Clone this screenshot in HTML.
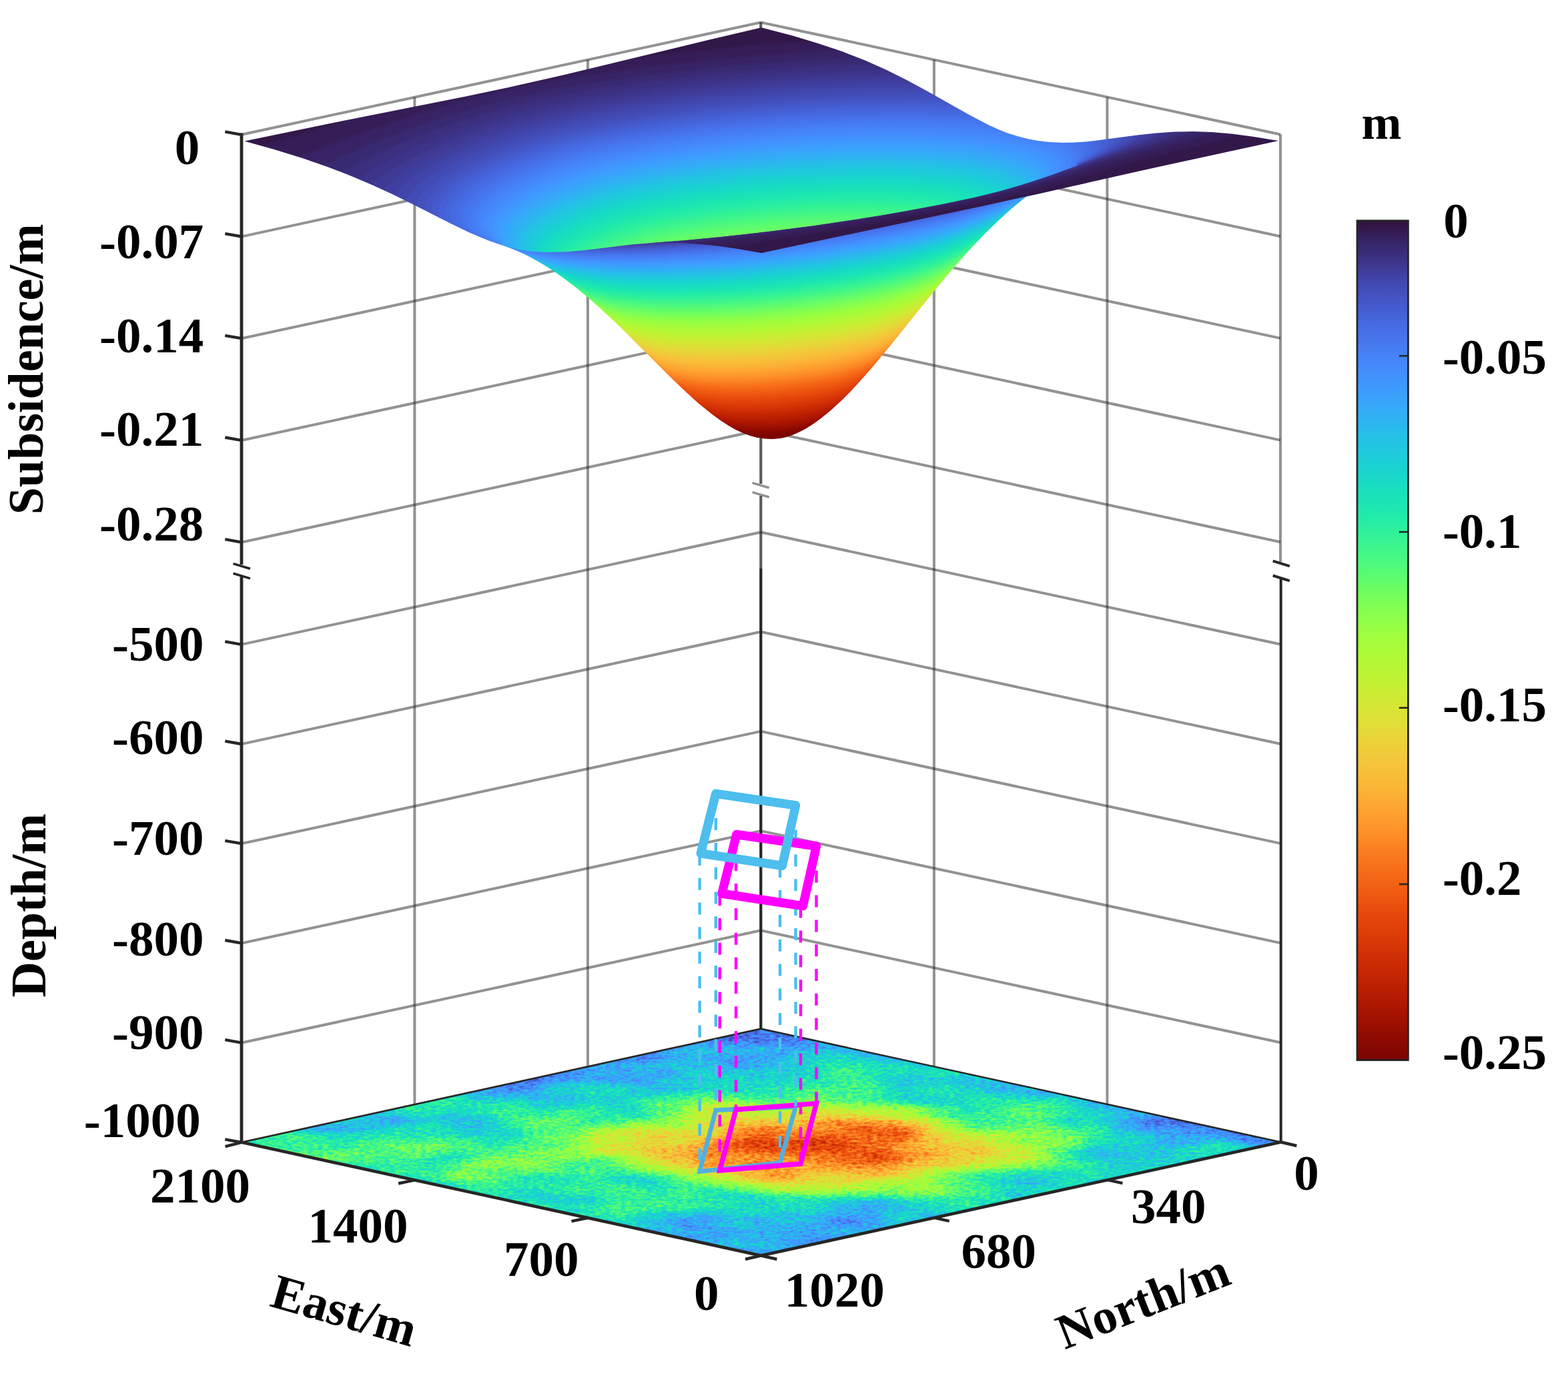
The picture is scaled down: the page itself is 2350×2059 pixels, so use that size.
<!DOCTYPE html>
<html lang="en"><head><meta charset="utf-8"><title>Subsidence and depth 3D plot</title>
<style>html,body{margin:0;padding:0;background:#fff}body{width:2350px;height:2059px;overflow:hidden}svg{display:block}text{font-family:"Liberation Serif","DejaVu Serif",serif;font-weight:bold;fill:#000}</style></head><body>
<svg xmlns="http://www.w3.org/2000/svg" width="2350" height="2059" viewBox="0 0 2350 2059">
<rect width="2350" height="2059" fill="#fff"/>
<defs>
<linearGradient id="cb" x1="0" y1="0" x2="0" y2="1"><stop offset="0.0000" stop-color="#30123b"/><stop offset="0.0250" stop-color="#372466"/><stop offset="0.0500" stop-color="#3d358b"/><stop offset="0.0750" stop-color="#4249b1"/><stop offset="0.1000" stop-color="#4559cb"/><stop offset="0.1250" stop-color="#466be3"/><stop offset="0.1500" stop-color="#477bf2"/><stop offset="0.1750" stop-color="#458afc"/><stop offset="0.2000" stop-color="#3e9bfe"/><stop offset="0.2250" stop-color="#35abf8"/><stop offset="0.2500" stop-color="#28bceb"/><stop offset="0.2750" stop-color="#1fc9dd"/><stop offset="0.3000" stop-color="#19d5cd"/><stop offset="0.3250" stop-color="#19e2bb"/><stop offset="0.3500" stop-color="#20eaac"/><stop offset="0.3750" stop-color="#32f298"/><stop offset="0.4000" stop-color="#46f884"/><stop offset="0.4250" stop-color="#5dfc6f"/><stop offset="0.4500" stop-color="#79fe59"/><stop offset="0.4750" stop-color="#8fff49"/><stop offset="0.5000" stop-color="#a4fc3c"/><stop offset="0.5250" stop-color="#b4f836"/><stop offset="0.5500" stop-color="#c3f134"/><stop offset="0.5750" stop-color="#d4e735"/><stop offset="0.6000" stop-color="#e1dd37"/><stop offset="0.6250" stop-color="#eecf3a"/><stop offset="0.6500" stop-color="#f6c33a"/><stop offset="0.6750" stop-color="#fbb637"/><stop offset="0.7000" stop-color="#fea431"/><stop offset="0.7250" stop-color="#fe932a"/><stop offset="0.7500" stop-color="#fb7e21"/><stop offset="0.7750" stop-color="#f66c19"/><stop offset="0.8000" stop-color="#f05b12"/><stop offset="0.8250" stop-color="#e7490c"/><stop offset="0.8500" stop-color="#dd3d08"/><stop offset="0.8750" stop-color="#d02f05"/><stop offset="0.9000" stop-color="#c32503"/><stop offset="0.9250" stop-color="#b41b01"/><stop offset="0.9500" stop-color="#a11201"/><stop offset="0.9750" stop-color="#8e0a01"/><stop offset="1.0000" stop-color="#7a0403"/></linearGradient>
<radialGradient id="hot" cx="0.585" cy="0.54" r="1" gradientUnits="userSpaceOnUse"><stop offset="0" stop-color="#dbdbdb"/><stop offset="0.07" stop-color="#d1d1d1"/><stop offset="0.15" stop-color="#b5b5b5"/><stop offset="0.23" stop-color="#8c8c8c"/><stop offset="0.32" stop-color="#616161"/><stop offset="0.46" stop-color="#424242"/><stop offset="0.6" stop-color="#383838"/><stop offset="1" stop-color="#333333"/></radialGradient>
<radialGradient id="lobe0" cx="0.22" cy="0.15" r="0.5" gradientUnits="userSpaceOnUse"><stop offset="0" stop-color="#fff" stop-opacity="0.22"/><stop offset="0.5" stop-color="#fff" stop-opacity="0.121"/><stop offset="1" stop-color="#fff" stop-opacity="0"/></radialGradient>
<filter id="heat" filterUnits="userSpaceOnUse" x="350" y="1530" width="1585" height="365" color-interpolation-filters="sRGB"><feTurbulence type="fractalNoise" baseFrequency="0.006 0.024" numOctaves="4" seed="3" result="n"/><feColorMatrix in="n" type="matrix" values="1 0 0 0 0 1 0 0 0 0 1 0 0 0 0 0 0 0 0 1" result="ng"/><feTurbulence type="fractalNoise" baseFrequency="0.13 0.33" numOctaves="2" seed="14" result="m"/><feColorMatrix in="m" type="matrix" values="1 0 0 0 0 1 0 0 0 0 1 0 0 0 0 0 0 0 0 1" result="mg"/><feComposite in="SourceGraphic" in2="ng" operator="arithmetic" k1="0" k2="1" k3="0.36" k4="-0.18" result="v1"/><feComposite in="v1" in2="mg" operator="arithmetic" k1="0" k2="1" k3="0.24" k4="-0.12" result="v"/><feComponentTransfer in="v" result="c"><feFuncR type="table" tableValues="0.19 0.213 0.232 0.251 0.263 0.272 0.276 0.276 0.273 0.254 0.227 0.193 0.152 0.122 0.098 0.093 0.114 0.153 0.221 0.29 0.366 0.459 0.533 0.611 0.664 0.726 0.776 0.832 0.875 0.913 0.95 0.973 0.99 0.996 0.995 0.988 0.972 0.954 0.931 0.899 0.868 0.824 0.783 0.727 0.675 0.607 0.546 0.48"/><feFuncG type="table" tableValues="0.072 0.129 0.186 0.252 0.306 0.37 0.421 0.481 0.53 0.59 0.639 0.688 0.745 0.789 0.837 0.872 0.907 0.932 0.957 0.974 0.987 0.997 0.999 0.995 0.985 0.965 0.941 0.906 0.873 0.836 0.788 0.747 0.694 0.643 0.575 0.517 0.446 0.388 0.335 0.278 0.237 0.192 0.157 0.119 0.09 0.059 0.036 0.016"/><feFuncB type="table" tableValues="0.232 0.373 0.5 0.634 0.73 0.826 0.891 0.951 0.985 0.999 0.989 0.962 0.914 0.866 0.803 0.752 0.697 0.643 0.569 0.503 0.437 0.361 0.306 0.253 0.224 0.206 0.203 0.208 0.216 0.223 0.228 0.225 0.21 0.192 0.164 0.139 0.108 0.084 0.062 0.042 0.031 0.02 0.013 0.007 0.004 0.004 0.006 0.011"/></feComponentTransfer><feComposite in="c" in2="SourceAlpha" operator="in"/></filter>
<filter id="tb" filterUnits="userSpaceOnUse" x="346" y="18" width="1590" height="664" color-interpolation-filters="sRGB"><feGaussianBlur stdDeviation="0 2.5"/><feComponentTransfer><feFuncR type="table" tableValues="0.19 0.209 0.225 0.239 0.251 0.261 0.268 0.273 0.276 0.277 0.275 0.271 0.259 0.239 0.214 0.186 0.152 0.127 0.107 0.095 0.093 0.103 0.127 0.163 0.209 0.262 0.32 0.381 0.443 0.504 0.56 0.611 0.664 0.706 0.746 0.786 0.823 0.859 0.891 0.92 0.945 0.965 0.98 0.99 0.995 0.997 0.994 0.988 0.975 0.962 0.945 0.926 0.905 0.881 0.854 0.824 0.791 0.756 0.717 0.675 0.631 0.583 0.533 0.48"/><feFuncG type="table" tableValues="0.072 0.118 0.164 0.208 0.252 0.296 0.338 0.38 0.421 0.462 0.501 0.54 0.58 0.619 0.659 0.698 0.745 0.78 0.814 0.845 0.872 0.896 0.917 0.936 0.953 0.968 0.98 0.989 0.996 0.999 0.999 0.995 0.985 0.973 0.956 0.936 0.913 0.887 0.858 0.828 0.796 0.764 0.73 0.694 0.653 0.61 0.564 0.517 0.457 0.411 0.366 0.325 0.287 0.253 0.222 0.192 0.164 0.137 0.113 0.09 0.069 0.049 0.032 0.016"/><feFuncB type="table" tableValues="0.232 0.346 0.451 0.547 0.634 0.712 0.78 0.84 0.891 0.933 0.966 0.989 0.999 0.995 0.98 0.955 0.914 0.876 0.835 0.793 0.752 0.715 0.676 0.631 0.582 0.53 0.477 0.424 0.373 0.327 0.286 0.253 0.224 0.21 0.204 0.203 0.207 0.212 0.219 0.225 0.228 0.228 0.222 0.21 0.196 0.178 0.159 0.139 0.113 0.093 0.075 0.058 0.045 0.035 0.027 0.02 0.014 0.009 0.006 0.004 0.004 0.005 0.007 0.011"/><feFuncA type="linear" slope="255" intercept="0"/></feComponentTransfer></filter>
<clipPath id="cfar"><path d="M366.4 211.6l135.6-28.1l196-39l64-13.4l82-18.7l214-51.6l82-19.2l2 0l46 12l38 11.3l36 12.2l34 13.2l32 14.2l32 15.9l30 16.3l62 35.1l30 15.6l14 6.4l14 5.6l14 4.4l16 4.1l16 3l18 2.1l18 0.8l18-0.3l16-1.1l16-1.6l62-8.3l28-3.1l28-1.9l28-0.5l28 1l30 2.5l32 4.2l38 6.2l0 0l-184 40l-194 43.7l-22 17.9l-22 19.9l-22 21.7l-22 23.4l-20 22.6l-22 26.1l-74 91.9l-26 31.3l-26 29.3l-12 12.5l-12 11.8l-14 12.7l-14 11.4l-14 9.9l-12 7.2l-14 6.6l-12 4.2l-10 1.9l-12 0.8l-10-0.4l-12-1.8l-10-2.7l-10-3.7l-10-4.7l-12-6.7l-12-7.7l-12-8.7l-22-17.9l-24-21.8l-24-23.3l-68-68l-22-20.9l-20-18l-22-18.5l-22-16.9l-20-13.7l-20-12.1l-16-8.4l-14-6.3l-12-4.7l-30-10.3l-28-11.8l-28-13.4l-60-30.5l-28-13.7l-30-13.9l-30-12.8l-36-14l-38-13.1l-42-13l-45.6-12.7z"/></clipPath>
<clipPath id="cB"><path d="M754 368.1l12 3.4l10 2.2l12 1.9l12 1.4l12 0.8l12 0.3l26-0.8l26-2.4l70-8.4l78-6.1l66-6.3l64-7.3l64-8.4l68-10l64-10.6l60-11.2l52-11l36-8.9l40-11.6l38-12.7l36-13.5l0 0.1l-16 7.8l-16 9.1l-16 10.1l-18 12.6l-16 12.3l-16 13.3l-16 14.4l-18 17.4l-28 29.3l-30 34.2l-30 36.3l-62 77.2l-28 33.3l-26 28.7l-12 12.2l-12 11.4l-12 10.5l-10 8l-12 8.6l-10 6.2l-12 6.3l-10 4.2l-10 3.1l-8 1.4l-10 0.8l-12-0.4l-12-1.8l-10-2.7l-10-3.7l-12-5.7l-12-6.9l-12-7.9l-10-7.3l-12-9.5l-12-10.1l-14-12.6l-28-26.8l-56-56.2l-26-25.4l-28-25.8l-26-22l-16-12.5l-14-10.1l-14-9.3l-14-8.5l-14-7.7l-14-6.7l-14-5.8l-12-4.2z"/></clipPath>
<clipPath id="cS"><path d="M968 364.7l48-3.6l48-4.3l52-5.5l52-6.2l54-7.2l52-7.6l52-8.4l50-8.8l40-7.7l36-7.5l26-6l28-7.4l28-8.2l28-9l24-8.5l42-15.6l0 31.1l-76 17.1l-78 17l-332 70.5l-2 0l-28-4.9l-26-3.9l-20-2.5l-20-1.9l-20-1.4l-20-0.6l-18 0.2l-20 0.8z"/></clipPath>
</defs>
<g stroke="#262626" stroke-opacity="0.5" stroke-width="4" fill="none">
<path d="M362.0 201.8L1140.3 33.5L1919.0 201.5"/>
<path d="M364.0 354.1L1140.3 186.2"/>
<path d="M1140.3 186.2L1919.0 354.2"/>
<path d="M364.0 506.8L1140.3 338.9"/>
<path d="M1140.3 338.9L1919.0 506.9"/>
<path d="M364.0 659.5L1140.3 491.6"/>
<path d="M1140.3 491.6L1919.0 659.6"/>
<path d="M364.0 812.2L1140.3 644.3"/>
<path d="M1140.3 644.3L1919.0 812.3"/>
<path d="M364.0 965.4L1140.3 797.5"/>
<path d="M1140.3 797.5L1919.0 965.5"/>
<path d="M364.0 1114.6L1140.3 946.7"/>
<path d="M1140.3 946.7L1919.0 1114.7"/>
<path d="M364.0 1263.8L1140.3 1095.9"/>
<path d="M1140.3 1095.9L1919.0 1263.9"/>
<path d="M364.0 1413.0L1140.3 1245.1"/>
<path d="M1140.3 1245.1L1919.0 1413.1"/>
<path d="M364.0 1562.2L1140.3 1394.3"/>
<path d="M1140.3 1394.3L1919.0 1562.3"/>
<path d="M621.4 145.7L621.4 1655.1"/>
<path d="M1399.9 89.5L1399.9 1598.3"/>
<path d="M880.9 89.6L880.9 1598.4"/>
<path d="M1659.4 145.5L1659.4 1654.9"/>
<path d="M1140.3 33.5L1140.3 725.0"/>
<path d="M1140.3 743.0L1140.3 852.0"/>
<path d="M1140.3 33.5L1140.3 725.0"/>
<path d="M1140.3 743.0L1140.3 852.0"/>
<path d="M1919.0 201.5L1919.0 842.0"/>
<path d="M1127.6 723.7L1152.7 731M1127.6 737.7L1152.7 745" stroke-width="3.4"/>
</g>
<path d="M1140.3 852.0L1140.3 1541.7" stroke="#262626" stroke-width="4.2" fill="none"/>
<g filter="url(#heat)"><g transform="matrix(778.40 169.80 778.30 -170.10 362.00 1711.80)"><rect x="0" y="0" width="1" height="1" fill="url(#hot)"/><rect x="0" y="0" width="1" height="1" fill="url(#lobe0)"/></g></g>
<path d="M362.0 1711.8L1140.3 1541.7L1919.7 1711.5" fill="none" stroke="#262626" stroke-width="2.6"/>
<g clip-path="url(#cfar)"><g filter="url(#tb)">
<path d="M354 30H1928V670H354z" fill="#000"/>
<path d="M366.4 197.6l135.6-28.1l196-39l64-13.4l82-18.7l214-51.6l82-19.2l2 0l46 12l38 11.3l36 12.2l34 13.2l32 14.2l32 15.9l30 16.3l62 35.1l30 15.6l14 6.4l14 5.6l14 4.4l16 4.1l16 3l18 2.1l18 0.8l18-0.3l32-2.7l62-8.3l28-3.1l28-1.9l28-0.5l28 1l30 2.5l32 4.2l38 6.2l0 28l-184 40l-194 43.7l-22 17.9l-22 19.9l-22 21.7l-22 23.4l-20 22.6l-22 26.1l-74 91.9l-26 31.3l-26 29.3l-24 24.3l-14 12.7l-14 11.4l-14 9.9l-12 7.2l-14 6.6l-12 4.2l-10 1.9l-12 0.8l-10-0.4l-12-1.8l-10-2.7l-10-3.7l-10-4.7l-12-6.7l-12-7.7l-12-8.7l-22-17.9l-24-21.8l-24-23.3l-68-68l-22-20.9l-20-18l-22-18.5l-22-16.9l-20-13.7l-20-12.1l-16-8.4l-14-6.3l-12-4.7l-30-10.3l-28-11.8l-28-13.4l-88-44.2l-30-13.9l-30-12.8l-36-14l-38-13.1l-42-13l-45.6-12.7z" fill="#020202"/>
<path d="M394 218.5l122-37.7l2-14.5l174-34.6l60-12.4l82-18.6l114-27.4l2 13.6l66-7.8l66-6.7l66-5.6l68-4.6l2-13.8l26 8.4l24 8.5l24 9.4l24 10.3l26 12.3l26 13.4l82 46l30 15.7l16 7.4l14 5.6l14 4.4l16 4.1l14 2.7l16 2l16 1.1l16 0.1l16-0.8l16-1.3l82-10.6l22-2.2l20-1.3l22-0.6l24 0.4l24 1.4l26 2.6l0 14.4l-16 5l-20 5.6l-74 18.1l-34 8.9l-96 28.3l-2 24.2l-74 16.7l-22 17.9l-22 19.9l-22 21.7l-22 23.4l-20 22.6l-22 26.1l-74 91.9l-26 31.3l-26 29.3l-24 24.3l-14 12.7l-14 11.4l-14 9.9l-12 7.2l-12 5.8l-12 4.4l-10 2.2l-12 1.1l-10-0.2l-12-1.6l-10-2.5l-10-3.5l-10-4.5l-12-6.5l-12-7.5l-14-10.1l-22-17.9l-24-21.8l-24-23.3l-68-68l-20-19l-20-18.2l-22-18.6l-20-15.5l-20-14.1l-20-12.4l-18-9.7l-16-7.3l-12-4.7l-30-10.3l-30-12.7l-28-13.5l-82-41.3l-28-13.1l-28-12.2l-32-12.8l-34-12.2l-36-11.8l-40-11.8z" fill="#040404"/>
<path d="M448 234.5l36-14.2l44-16.4l46-16.1l42-14l38-11.8l38-10.9l36-9.4l32-7.4l52-10.3l56-9.6l60-8.9l64-8.3l64-7l66-6.1l66-5l68-4l2-13.5l22 8.3l22 8.9l20 8.9l22 10.6l38 20l74 41.7l30 15.3l14 6.2l12 4.6l14 4.3l14 3.5l16 3l16 1.9l16 0.9l18-0.1l16-0.9l16-1.5l72-9.4l34-3.4l18-1l18-0.4l18 0.2l20 0.9l0 14.8l-14 5l-16 5.1l-94 26l-80 24.6l-2 32.3l-74 16.7l-22 17.9l-22 19.9l-22 21.7l-22 23.4l-20 22.6l-22 26.1l-72 89.4l-26 31.4l-26 29.5l-24 24.6l-14 12.9l-14 11.5l-14 10.2l-12 7.3l-12 6.1l-12 4.7l-10 2.5l-12 1.4l-10-0.1l-12-1.4l-10-2.2l-12-4.1l-10-4.5l-12-6.5l-12-7.5l-14-10.1l-22-17.9l-24-21.8l-24-23.3l-66-66l-20-19.2l-20-18.2l-22-18.8l-20-15.7l-20-14.1l-18-11.4l-18-10.1l-18-8.5l-14-5.5l-32-11.1l-30-12.9l-26-12.5l-76-38.4l-46-21.4l-24-10.1l-26-10.2l-26-9.5l-28-9.3z" fill="#060606"/>
<path d="M484 247l30-14.3l36-15.5l38-15.1l40-14.6l38-12.8l38-11.6l38-10.5l36-8.6l52-10.4l58-10l62-9.1l64-8l66-7l68-5.9l68-4.7l68-3.4l2-13.3l34 14.6l36 17.6l32 17.2l66 37.3l30 15.5l14 6.3l14 5.4l14 4.3l14 3.5l16 3l18 2.1l18 0.8l18-0.3l32-2.7l64-8.5l28-3.1l30-1.9l30-0.2l0 14.3l-14 5.7l-20 6.9l-82 24.6l-64 20.4l-2 36.9l-74 16.7l-22 17.9l-22 19.9l-22 21.7l-22 23.4l-20 22.6l-22 26.1l-72 89.4l-26 31.4l-26 29.5l-24 24.6l-14 12.9l-14 11.5l-14 10.2l-12 7.3l-12 6.1l-12 4.7l-10 2.5l-12 1.4l-10-0.1l-12-1.4l-10-2.2l-12-4.1l-10-4.5l-12-6.5l-12-7.5l-14-10.1l-22-17.9l-24-21.8l-24-23.3l-66-66l-20-19.2l-20-18.2l-20-17.1l-20-15.9l-20-14.3l-18-11.5l-20-11.3l-18-8.5l-14-5.5l-32-11.1l-30-12.9l-28-13.5l-70-35.4l-40-18.9l-38-16.3l-40-15.2z" fill="#080808"/>
<path d="M512 257.7l26-14.7l30-14.7l34-14.9l38-15.1l38-13.5l40-12.8l40-11.3l36-8.8l52-10.4l60-10.2l62-9l66-8l68-6.9l68-5.5l68-4.3l68-2.9l2-13.3l28 12.9l28 14.2l28 15.3l60 34l30 15.6l14 6.4l14 5.6l14 4.4l16 4.1l16 3l18 2.1l18 0.8l18-0.3l32-2.7l60-8l24-2.8l24-2l24-0.9l0 14.2l-16 7.2l-20 7.4l-124 40.4l-2 39.6l-72 16.2l-2 0.5l-2 1.6l-22 18l-22 20.1l-22 21.8l-22 23.6l-20 22.8l-22 26.2l-70 86.9l-26 31.4l-26 29.5l-24 24.6l-14 12.9l-12 10l-14 10.3l-12 7.6l-12 6.3l-12 4.9l-10 2.8l-12 1.6l-10 0.2l-12-1.2l-10-2l-12-3.8l-12-5.3l-12-6.5l-12-7.5l-14-10.1l-22-17.9l-24-21.8l-24-23.3l-66-66l-38-35.6l-20-17.3l-20-15.9l-20-14.5l-18-11.7l-20-11.4l-20-9.6l-14-5.5l-30-10.3l-30-12.7l-26-12.5l-62-31.5l-32-15.6l-36-16.3l-34-13.9z" fill="#0a0a0a"/>
<path d="M536 266.9l10-7l12-7.6l26-14.4l32-15.3l36-15.2l38-14.2l38-12.6l40-11.7l38-9.5l52-10.4l60-10.2l64-9.2l66-7.8l68-6.7l70-5.4l70-4l68-2.5l2-13.6l22 10.7l24 12.5l78 43.9l30 15.7l16 7.4l14 5.6l14 4.4l16 4.1l16 3l18 2.1l18 0.8l18-0.3l16-1.1l18-1.8l76-10l36-2.9l0 14.6l-16 8l-20 7.9l-106 36.3l-2 41.4l-74 16.7l-6 4.7l-20 16.7l-22 20.2l-20 19.9l-22 23.6l-20 22.8l-22 26.2l-70 86.9l-26 31.4l-26 29.5l-22 22.7l-14 13l-14 11.8l-14 10.3l-12 7.6l-12 6.3l-12 4.9l-10 2.8l-12 1.6l-10 0.2l-12-1.2l-10-2l-12-3.8l-12-5.3l-12-6.5l-12-7.5l-14-10.1l-22-17.9l-24-21.8l-24-23.3l-66-66l-38-35.6l-20-17.3l-20-15.9l-18-13.2l-18-11.8l-20-11.6l-20-9.7l-14-5.7l-34-11.8l-30-12.9l-26-12.5l-82-41.3l-28-13.1l-28-12.2z" fill="#0c0c0c"/>
<path d="M556 276.2l8-6.9l10-7.5l12-7.8l12-7.2l28-14.7l34-15.4l36-14.2l40-13.8l40-12l40-10.1l52-10.6l62-10.5l64-9l68-7.9l70-6.6l70-5.1l70-3.6l68-2.1l2-13.9l34 17.7l74 41.7l30 15.7l16 7.4l14 5.6l14 4.4l16 4.1l16 3l18 2.1l18 0.8l18-0.3l30-2.5l68-9l32-3.3l0 15l-14 7.9l-20 8.6l-24 9l-68 24.2l-2 42.5l-74 16.7l-12 9.5l-20 17.2l-20 18.8l-20 20.2l-22 23.9l-20 22.9l-20 24l-68 84.5l-24 29.1l-26 29.6l-24 24.9l-14 13l-14 11.8l-14 10.3l-12 7.6l-12 6.3l-12 4.9l-10 2.8l-12 1.6l-10 0.2l-12-1.2l-10-2l-12-3.8l-12-5.3l-12-6.5l-12-7.5l-14-10.1l-22-17.9l-24-21.8l-24-23.3l-66-66l-38-35.6l-20-17.3l-18-14.4l-18-13.3l-18-11.9l-22-12.9l-20-9.7l-14-5.7l-34-11.8l-32-13.8l-26-12.6l-72-36.4l-44-20.6z" fill="#0e0e0e"/>
<path d="M576 282.8l6-6.1l8-7l10-7.4l12-7.9l14-8.3l14-7.5l32-15.1l36-14.7l38-13.3l40-12.2l40-10.3l52-10.5l62-10.4l66-9.2l68-7.8l70-6.3l72-5l70-3.2l70-1.7l2-13.5l30 16.2l64 36.2l28 14.6l16 7.4l14 5.6l14 4.4l16 4.1l16 3l18 2.1l18 0.8l18-0.3l32-2.7l60-8l24-2.8l0 15l-12 7.8l-20 9.5l-26 10.4l-54 20l-2 43.2l-74 16.7l-16 12.8l-18 15.7l-20 18.9l-20 20.4l-20 21.8l-20 22.9l-20 24l-68 84.5l-24 29.1l-26 29.6l-24 24.9l-14 13l-12 10.2l-14 10.5l-12 7.8l-12 6.6l-12 5.1l-10 3.1l-12 1.9l-10 0.3l-12-0.9l-12-2.3l-10-3.1l-12-5l-12-6.3l-12-7.4l-14-9.9l-22-17.7l-26-23.5l-24-23.3l-66-66l-38-35.6l-20-17.3l-18-14.4l-18-13.3l-18-11.9l-22-12.9l-20-9.7l-14-5.7l-34-11.8l-16-6.6l-18-8.1l-26-12.7l-62-31.5l-32-15.4z" fill="#101010"/>
<path d="M592 292l6-8l6-6.2l8-6.9l10-7.5l12-7.9l14-8.2l30-15.2l36-15.4l38-13.8l42-13l40-10.4l54-11l62-10.3l66-9l70-7.8l72-6.3l72-4.6l70-2.9l70-1.3l2-13.5l80 45l30 15.6l14 6.4l14 5.6l14 4.4l16 4.1l16 3l18 2.1l16 0.8l18-0.2l16-1l18-1.8l72-9.5l0 14l-4 3.7l-6 4.4l-8 4.8l-10 5l-26 11.2l-46 17.9l-2 43.6l-74 16.7l-22 17.9l-18 16.1l-20 19.4l-18 18.7l-20 22l-38 44.8l-64 79.6l-26 31.6l-26 29.6l-22 22.9l-14 13.2l-14 12l-14 10.5l-12 7.8l-12 6.6l-12 5.1l-10 3.1l-12 1.9l-10 0.3l-12-0.9l-12-2.3l-10-3.1l-12-5l-12-6.3l-12-7.4l-14-9.9l-22-17.7l-26-23.5l-24-23.3l-66-66l-36-33.9l-20-17.3l-18-14.6l-18-13.3l-18-12.2l-20-11.9l-18-9.2l-18-7.6l-36-12.6l-24-10.1l-30-14.3l-84-42.3z" fill="#121212"/>
<path d="M608 299.6l2-4.1l4-6.1l6-6.9l6-5.7l8-6.6l8-5.8l20-12.5l24-12.6l28-12.6l30-11.8l34-11.6l30-9l30-7.8l30-6.5l34-6.5l42-7l44-6.5l46-5.8l48-5.3l76-6.7l76-4.8l76-2.9l74-0.9l2-13.1l66 37.3l32 16.6l14 6.3l14 5.4l14 4.3l14 3.5l16 3l16 1.9l16 0.9l16 0l18-1l18-1.7l60-8l0 15.6l-4 4.1l-6 4.6l-8 5l-8 4.2l-24 11l-36 14.7l-2 43.7l-74 16.7l-26 21.4l-18 16.4l-18 17.6l-18 18.8l-18 19.9l-38 44.8l-64 79.6l-26 31.6l-26 29.6l-22 22.9l-14 13.2l-12 10.4l-14 10.7l-12 8l-12 6.8l-12 5.3l-12 3.9l-10 1.7l-12 0.5l-12-0.9l-12-2.3l-10-3.1l-12-5l-12-6.3l-12-7.4l-14-9.9l-22-17.7l-26-23.5l-24-23.3l-66-66l-36-33.9l-20-17.3l-18-14.6l-18-13.3l-18-12.2l-20-11.9l-18-9.2l-20-8.4l-32-11l-24-10l-32-15.2l-68-34.5z" fill="#141414"/>
<path d="M624 304.1l2-4.9l4-6.6l4-5l6-6.2l14-11.5l18-11.8l22-12.1l26-12.2l28-11.4l32-11.3l28-8.7l30-8.1l26-6l34-6.8l40-6.9l42-6.4l44-5.9l46-5.2l82-7.6l82-5.2l82-3l40-0.6l40 0l2-13.5l56 31.7l32 16.4l14 6.2l12 4.6l14 4.3l14 3.5l14 2.7l16 2l16 1.1l16 0.1l16-0.8l18-1.5l52-6.9l0 15.7l-4 5.1l-4 3.6l-6 4.4l-8 4.8l-20 10l-32 13.9l-2 43.8l-74 16.7l-14 11.2l-16 13.7l-16 14.8l-18 17.7l-18 19l-18 20l-36 42.5l-64 79.6l-26 31.6l-26 29.6l-22 22.9l-14 13.2l-12 10.4l-14 10.7l-12 8l-12 6.8l-12 5.3l-12 3.9l-10 1.7l-12 0.5l-12-0.9l-12-2.3l-10-3.1l-12-5l-12-6.3l-12-7.4l-14-9.9l-22-17.7l-26-23.5l-24-23.3l-66-66l-36-33.9l-20-17.3l-18-14.6l-18-13.3l-16-10.9l-20-12.1l-20-10.3l-16-6.9l-32-11l-26-10.6l-32-15.1l-54-27.4z" fill="#161616"/>
<path d="M636 310.1l2-6.9l2-4.1l4-6l4-4.7l6-6l6-5.2l16-11.5l20-11.8l24-12l26-11.2l30-11.2l28-9.1l28-8.1l24-6.1l30-6.3l38-7.1l42-6.7l44-6.2l44-5.4l44-4.6l44-3.9l44-3.2l46-2.7l46-2l44-1.2l42-0.4l42 0.2l2-13.8l48 27.1l32 16.3l12 5.2l12 4.6l14 4.3l14 3.5l14 2.7l16 2l14 1l16 0.2l16-0.6l16-1.3l46-5.9l0 15.8l-2 3.8l-4 4.7l-6 5l-6 4.1l-18 9.8l-28 12.9l-2 43.8l-74 16.7l-26 21.4l-26 24.1l-30 30.9l-32 36.1l-30 36.2l-66 82.1l-28 33.2l-26 28.5l-24 23.3l-12 10.4l-10 7.8l-12 8.4l-10 6l-12 6.1l-10 4l-8 2.4l-10 1.7l-12 0.5l-12-0.9l-12-2.3l-10-3.1l-12-5l-12-6.3l-12-7.4l-14-9.9l-22-17.7l-26-23.5l-24-23.3l-66-66l-36-33.9l-20-17.3l-18-14.6l-18-13.3l-16-10.9l-22-13.2l-20-10.1l-18-7.5l-32-11l-20-8.2l-30-14.1l-46-23.2z" fill="#181818"/>
<path d="M648 306.8l2-4.6l4-6.3l4-4.9l6-6.1l14-11.4l16-10.4l20-11l24-11.3l26-10.6l28-10l26-8.2l28-7.7l24-5.8l30-6.1l36-6.4l40-6.3l42-5.8l42-5l44-4.6l46-4l44-3.1l46-2.5l46-1.8l44-1.1l44-0.2l42 0.5l2-13.5l42 23.5l30 15.1l12 5.1l12 4.5l14 4.1l12 3l14 2.7l14 1.8l14 1.1l14 0.3l16-0.4l16-1.2l40-4.8l0 19.3l-2 3.3l-4 4.5l-10 7.7l-16 9.2l-22 10.6l-2 43.9l-74 16.7l-26 21.4l-28 26l-30 31.1l-32 36.4l-30 36.3l-62 77.2l-30 35.6l-26 28.5l-22 21.5l-12 10.5l-12 9.5l-12 8.4l-10 6l-12 6.1l-10 4l-8 2.4l-10 1.7l-12 0.5l-12-0.9l-12-2.3l-10-3.1l-12-5l-12-6.3l-12-7.4l-14-9.9l-22-17.7l-26-23.5l-24-23.3l-66-66l-36-33.9l-20-17.3l-18-14.6l-18-13.3l-16-10.9l-22-13.2l-20-10.1l-16-6.7l-28-9.5l-24-9.7l-28-12.9l-38-19.1z" fill="#1a1a1a"/>
<path d="M658 308.7l2-4.5l4-6.4l8-9l6-5.5l8-6.3l16-10.6l20-11.1l22-10.4l24-10l28-10.1l26-8.3l26-7.3l22-5.3l30-6.3l36-6.5l38-6.1l40-5.6l42-5.1l46-4.9l48-4.2l46-3.2l48-2.6l48-1.8l46-0.9l44-0.1l44 0.8l2-13.1l38 21l28 13.7l20 7.8l14 4.1l14 3.4l12 2.3l14 1.8l14 1.1l14 0.3l28-1.2l36-4.1l0 18.8l-2 4.8l-2 2.9l-4 4.1l-4 3.4l-14 9l-20 10.4l-2 44l-74 16.7l-20 16.2l-18 16l-20 19.2l-18 18.5l-20 21.9l-38 44.7l-68 84.5l-24 29.1l-26 29.6l-22 22.9l-14 13.2l-12 10.4l-14 10.7l-12 8l-12 6.8l-12 5.3l-12 3.9l-10 1.7l-10 0.5l-10-0.4l-12-1.8l-10-2.7l-10-3.7l-12-5.7l-10-5.7l-12-7.7l-22-16.5l-24-20.7l-28-26.6l-64-64.1l-30-29l-32-28.6l-28-22.6l-16-11.6l-16-10.5l-16-9.6l-14-7.4l-22-9.8l-30-10.2l-22-8.8l-24-10.9l-32-15.9l-2-15.6z" fill="#1c1c1c"/>
<path d="M666 316.6l2-7.4l2-4.1l6-8.5l10-10l14-10.7l18-11.1l20-10.4l22-9.9l26-10.2l24-8.3l26-8l26-7l24-5.4l34-6.7l36-6.2l40-6l40-5.2l50-5.6l50-4.7l50-3.7l52-3l52-2l50-0.9l48 0.1l46 1l2-13.9l34 18.6l26 12.4l18 7l14 4.1l12 3l24 4.1l12 1.1l14 0.7l14-0.1l14-0.7l32-3.2l0 24.9l-4 5.6l-8 7l-10 6.6l-14 7.8l-2 44.2l-74 16.7l-20 16.2l-18 16l-20 19.2l-18 18.5l-20 21.9l-38 44.7l-68 84.5l-24 29.1l-26 29.6l-22 22.9l-14 13.2l-12 10.4l-14 10.7l-12 8l-12 6.8l-12 5.3l-12 3.9l-10 1.7l-10 0.5l-10-0.4l-12-1.8l-10-2.7l-10-3.7l-12-5.7l-12-6.9l-12-7.9l-22-16.8l-24-20.9l-28-26.7l-60-60.1l-28-27.2l-30-27.3l-28-23.1l-18-13.3l-16-10.9l-18-10.9l-16-8.6l-22-9.8l-30-10.2l-18-7.1l-22-9.8l-28-13.6l-2-17.4l-2-6.9z" fill="#1e1e1e"/>
<path d="M676 313.6l2-4.8l4-6.5l8-9l6-5.5l8-6.2l16-10.5l20-10.9l22-10.3l26-10.5l28-9.7l26-8l26-6.9l26-5.8l30-5.8l36-6.2l40-6l40-5.2l42-4.8l46-4.4l46-3.6l48-2.9l46-2.1l46-1.2l46-0.4l44 0.4l40 1.3l2-13.6l28 15l24 11.2l18 6.7l24 6.5l22 3.8l24 2l26-0.3l28-2.4l2 15.8l0 11l-4 5.9l-6 5.7l-8 5.8l-10 6.1l-2 44.6l-74 16.7l-20 16.2l-18 16l-20 19.2l-18 18.5l-20 21.9l-38 44.7l-68 84.5l-24 29.1l-26 29.6l-22 22.9l-14 13.2l-12 10.4l-14 10.7l-12 8l-12 6.8l-12 5.3l-12 3.9l-10 1.7l-10 0.5l-10-0.4l-12-1.8l-10-2.7l-10-3.7l-12-5.7l-12-6.9l-12-7.9l-22-16.8l-26-22.7l-26-24.9l-60-60.1l-28-27.2l-30-27.3l-26-21.5l-18-13.5l-16-11l-18-11.1l-16-8.7l-12-5.7l-12-5.1l-28-9.5l-18-7l-18-7.8l-22-10.5l-2-16.2l-2-2.9l-2-4.3z" fill="#202020"/>
<path d="M684 317.1l2-5.3l2-3.7l4-5.6l4-4.6l12-10.7l16-11.1l20-11.2l22-10.5l24-9.8l28-10l26-8.1l26-7l24-5.5l30-5.9l36-6.3l38-5.7l40-5.3l42-4.8l48-4.7l48-3.7l50-3l48-2.1l48-1.1l46-0.2l44 0.7l42 1.7l2-13.6l24 12.4l22 9.9l18 6.3l20 5.3l20 3.6l22 2l22 0.2l26-1.6l2 15.4l2 3.2l0 10.9l-2 3.5l-4 4.6l-6 5.2l-8 5.6l-2 45.4l-74 16.7l-20 16.2l-18 16l-20 19.2l-18 18.5l-20 21.9l-38 44.7l-68 84.5l-24 29.1l-26 29.6l-22 22.9l-14 13.2l-12 10.4l-14 10.7l-12 8l-12 6.8l-12 5.3l-12 3.9l-10 1.7l-10 0.5l-12-0.6l-12-2.1l-10-2.9l-10-3.9l-12-5.9l-12-7l-12-8.1l-22-17l-24-21.1l-26-24.9l-60-60.1l-26-25.3l-28-25.7l-26-21.8l-18-13.8l-18-12.6l-18-11.2l-16-8.9l-22-10.2l-42-14.9l-16-6.6l-18-8.1l-2-15l-6-6.4l-2-3.1l-2-4.8z" fill="#222222"/>
<path d="M692 319.2l2-5.2l2-3.7l4-5.6l4-4.5l12-10.6l16-11l18-10.2l22-10.5l24-9.9l26-9.2l26-8.1l26-7.1l22-5.1l30-5.9l36-6.3l38-5.8l40-5.3l40-4.6l50-4.8l50-3.9l50-2.9l50-2l50-1l48 0.1l44 1l42 2l2-13.8l22 11l18 7.6l16 5.3l18 4.7l18 3.3l20 2.1l20 0.5l20-0.8l2 14.1l4 3.9l2 2.9l0 12.2l-4 5.8l-8 7.2l-2 46.8l-74 16.7l-20 16.2l-18 16l-20 19.2l-18 18.5l-20 21.9l-38 44.7l-68 84.5l-24 29.1l-26 29.6l-22 22.9l-14 13.2l-12 10.4l-14 10.7l-12 8l-12 6.8l-12 5.3l-12 3.9l-10 1.7l-10 0.5l-12-0.6l-12-2.1l-10-2.9l-10-3.9l-12-5.9l-12-7l-12-8.1l-22-17l-26-22.9l-26-25l-56-56.2l-26-25.4l-28-25.8l-26-22l-18-13.9l-18-12.7l-18-11.4l-16-9l-14-6.9l-12-5.2l-36-12.5l-26-10.8l-2-15.3l-6-4.9l-4-4.5l-2-3.1l-2-4.7z" fill="#242424"/>
<path d="M700 320.2l2-4.7l4-6.4l8-8.9l12-10l16-10.6l18-9.8l22-10.2l24-9.7l28-9.7l24-7.2l26-6.8l26-5.7l30-5.7l36-6l38-5.6l40-5l42-4.6l50-4.5l50-3.6l50-2.6l50-1.7l50-0.6l46 0.4l44 1.5l40 2.4l2-13.4l16 7.5l16 6.4l14 4.4l16 4.1l16 3l16 1.9l16 0.9l18-0.1l2 14.1l4 2.8l4 3.7l2 2.6l2 5.1l0 3.8l-2 5.4l-4 5.3l-2 49.5l-74 16.7l-20 16.2l-18 16l-20 19.2l-18 18.5l-20 21.9l-38 44.7l-68 84.5l-24 29.1l-26 29.6l-22 22.9l-14 13.2l-12 10.4l-14 10.7l-12 8l-12 6.8l-12 5.3l-12 3.9l-10 1.7l-10 0.5l-12-0.6l-12-2.1l-10-2.9l-10-3.9l-12-5.9l-12-7l-14-9.5l-22-17.3l-24-21.2l-26-25l-56-56.2l-26-25.4l-28-25.8l-24-20.4l-18-14.1l-18-12.8l-18-11.5l-16-9.2l-14-7l-14-6.1l-30-10.3l-16-6.2l-2-14.9l-8-4.8l-6-4.8l-4-4.3l-2-2.9l-2-4.2z" fill="#262626"/>
<path d="M706 328.9l2-8.3l2-4.1l4-5.9l4-4.7l6-5.8l14-10.7l18-11l20-10.2l22-9.5l26-9.8l24-7.8l26-7.4l22-5.4l28-5.8l34-6.1l38-6l38-5.2l40-4.7l54-5.4l56-4.3l56-3.1l54-1.8l54-0.7l50 0.7l48 1.9l42 3.1l2-13.7l12 5.1l12 4.5l14 4.1l12 3l12 2.3l14 2l12 1.1l14 0.5l2 14.1l6 3.2l6 4.2l4 4.2l2 3.4l0 63l-74 16.7l-18 14.5l-18 15.8l-20 19.1l-20 20.5l-20 21.9l-38 44.7l-68 84.5l-24 29.1l-26 29.6l-24 24.9l-14 13l-14 11.8l-14 10.3l-12 7.6l-14 7.2l-12 4.7l-10 2.5l-12 1.4l-10-0.1l-12-1.4l-10-2.2l-10-3.3l-10-4.3l-12-6.3l-12-7.4l-14-9.9l-20-16l-24-21.4l-26-25.1l-76-75.8l-24-22.5l-24-20.9l-18-14.6l-16-11.9l-18-12.3l-16-9.8l-16-8.7l-16-7.5l-14-5.5l-16-5.2l-2-14.7l-8-3.2l-8-3.8l-6-3.6l-6-4.6l-4-4.1l-4-6.2l-2-7.7z" fill="#282828"/>
<path d="M714 325.7l2-5l2-3.5l4-5.4l4-4.5l12-10.4l16-10.7l18-9.9l22-10.2l24-9.6l26-8.9l24-7.2l24-6.3l26-5.6l30-5.7l34-5.7l38-5.5l38-4.8l40-4.3l56-5l56-3.8l56-2.5l54-1.2l52 0l50 1.4l46 2.7l38 3.8l2-13.2l16 5.1l18 4.5l16 2.9l16 1.8l2 14.3l12 5l10 6.1l4 3.6l2 2.7l2 5.3l0 57.3l-68 15.3l-20 16.2l-18 16l-20 19.2l-18 18.5l-20 21.9l-38 44.7l-68 84.5l-24 29.1l-26 29.6l-24 24.9l-14 13l-14 11.8l-14 10.3l-12 7.6l-14 7.2l-12 4.7l-10 2.5l-12 1.4l-10-0.1l-12-1.4l-10-2.2l-10-3.3l-10-4.3l-12-6.3l-12-7.4l-14-9.9l-20-16l-24-21.4l-26-25.1l-76-75.8l-24-22.5l-24-20.9l-16-13l-16-12.1l-16-11.1l-16-10l-16-9l-14-6.9l-14-6l-14-4.9l-2-14.7l-14-5.7l-6-3.3l-6-3.9l-4-3.4l-4-4.4l-2-3l-2-4.4z" fill="#2a2a2a"/>
<path d="M720 331l2-6.3l2-3.9l6-8.1l10-9.5l14-10.2l16-9.5l20-9.9l22-9.3l26-9.6l24-7.6l24-6.6l20-4.8l28-5.7l34-6l36-5.6l38-5.1l38-4.5l44-4.3l46-3.7l46-2.9l46-2l44-1.2l44-0.3l42 0.6l40 1.6l36 2.3l30 3.1l24 3.6l24 5l20 5.6l16 6.4l6 3.4l4 2.8l4 3.9l2 3l0 59.4l-60 13.5l-22 17.9l-18 16.1l-18 17.4l-18 18.5l-20 21.9l-38 44.7l-68 84.5l-24 29.1l-26 29.6l-24 24.9l-14 13l-14 11.8l-14 10.3l-12 7.6l-14 7.2l-12 4.7l-10 2.5l-12 1.4l-10-0.1l-12-1.4l-10-2.2l-12-4.1l-10-4.5l-12-6.5l-12-7.5l-14-10.1l-20-16.2l-24-21.6l-24-23.2l-74-73.8l-24-22.6l-22-19.4l-18-14.8l-16-12.2l-16-11.2l-16-10.2l-16-9.2l-14-7l-16-6.9l-14-4.9l-2-14.9l-12-5.7l-10-6.9l-6-6.5l-2-3.3l-2-5.8z" fill="#2c2c2c"/>
<path d="M728 328.2l2-4.1l4-5.9l8-8.5l12-9.6l16-10.2l18-9.5l20-9l24-9.3l24-8.1l24-7l22-5.6l26-5.6l28-5.2l34-5.6l34-4.9l36-4.5l38-4.2l44-4l44-3.3l46-2.6l44-1.6l44-0.9l42 0.1l40 0.8l36 1.7l32 2.3l28 3.1l24 3.9l22 4.8l18 5.3l14 5.8l6 3.4l4 2.9l4 4.1l2 3.4l0 55.9l-54 12.1l-26 21.4l-18 16.4l-18 17.6l-18 18.8l-18 19.9l-38 44.8l-64 79.6l-26 31.6l-26 29.6l-24 24.9l-14 13l-14 11.8l-14 10.3l-12 7.6l-12 6.3l-12 4.9l-10 2.8l-12 1.6l-10 0.2l-12-1.2l-10-2l-12-3.8l-10-4.3l-12-6.3l-12-7.4l-14-9.9l-22-17.7l-24-21.6l-24-23.2l-74-73.8l-24-22.6l-22-19.4l-18-14.8l-16-12.2l-16-11.2l-16-10.2l-16-9.2l-14-7l-16-6.9l-14-4.9l-2-15.5l-8-4.2l-8-5.8l-4-4.1l-4-6.2z" fill="#2e2e2e"/>
<path d="M734 331.3l2-4.2l4-6l8-8.6l12-9.6l14-9l18-9.6l20-9.1l22-8.6l24-8.2l24-7.1l22-5.7l24-5.2l28-5.2l34-5.7l34-4.9l36-4.6l38-4.2l44-4l44-3.3l44-2.5l44-1.6l44-0.9l42 0.1l40 0.9l36 1.7l32 2.4l26 2.9l24 3.9l22 4.9l18 5.5l14 6.1l6 3.8l4 3.4l2 2.4l2 3.6l0 52.7l-48 10.8l-14 11.2l-14 11.9l-16 14.7l-18 17.6l-18 18.8l-18 19.9l-38 44.8l-64 79.6l-26 31.6l-26 29.6l-24 24.9l-14 13l-14 11.8l-14 10.3l-12 7.6l-12 6.3l-12 4.9l-10 2.8l-12 1.6l-10 0.2l-12-1.2l-10-2l-12-3.8l-12-5.3l-12-6.5l-12-7.5l-14-10.1l-20-16.2l-22-19.7l-24-23.1l-56-56.2l-26-25.4l-28-25.8l-26-22l-16-12.5l-14-10.1l-14-9.3l-14-8.5l-14-7.7l-14-6.7l-14-5.8l-12-4.2l-2-16.3l-6-3.8l-6-5.1l-4-5l-2-3.7z" fill="#303030"/>
<path d="M740 333.9l4-7.4l4-5.2l4-4.2l12-10l14-9.2l18-9.8l20-9.1l22-8.7l24-8.2l24-7.1l22-5.6l24-5.2l28-5.2l34-5.6l34-4.9l36-4.6l36-3.9l42-3.9l44-3.2l44-2.5l44-1.6l42-0.8l42 0l38 0.9l36 1.7l32 2.4l26 2.9l24 4l22 5l16 4.9l14 6.1l6 3.7l4 3.5l2 2.3l2 3.8l0 50l-42 9.4l-26 21.4l-28 26l-30 31.1l-32 36.4l-30 36.3l-62 77.2l-30 35.6l-28 30.6l-12 11.9l-12 11.1l-12 10.2l-12 9.1l-12 8l-10 5.7l-12 5.6l-10 3.6l-8 1.9l-10 1.2l-10 0.2l-12-1.2l-10-2l-12-3.8l-12-5.3l-12-6.5l-12-7.5l-14-10.1l-20-16.2l-22-19.7l-24-23.1l-56-56.2l-26-25.4l-28-25.8l-26-22l-16-12.5l-14-10.1l-14-9.3l-14-8.5l-14-7.7l-14-6.7l-14-5.8l-12-4.2l-2-17.7l-4-3.2l-4-4.1l-4-6.4z" fill="#323232"/>
<path d="M746 336.1l2-4.1l4-5.9l8-8.4l12-9.4l14-8.9l16-8.5l20-9l22-8.6l24-8.1l22-6.5l22-5.6l24-5.1l28-5.2l32-5.3l34-4.9l36-4.5l36-3.9l42-3.9l42-3.1l44-2.4l42-1.6l42-0.8l40 0l38 0.9l36 1.6l32 2.4l26 3l24 4l20 4.6l16 4.8l14 6.1l6 3.7l4 3.4l2 2.3l2 3.6l0 47.7l-36 8.1l-14 11.2l-14 11.9l-14 12.8l-16 15.5l-28 29.3l-30 34.2l-30 36.3l-62 77.2l-28 33.3l-28 30.8l-24 23.3l-12 10.4l-12 9.3l-12 8.2l-12 6.9l-12 5.6l-10 3.6l-8 1.9l-10 1.2l-12 0.1l-12-1.4l-10-2.2l-12-4.1l-12-5.5l-12-6.7l-12-7.7l-14-10.2l-18-14.7l-22-19.7l-24-23.1l-56-56.2l-26-25.4l-28-25.8l-26-22l-16-12.5l-14-10.1l-14-9.3l-14-8.5l-14-7.7l-14-6.7l-14-5.8l-12-4.2l-2-20.2l-4-4.8l-2-3.5z" fill="#343434"/>
<path d="M750 344.7l2-6.8l2-3.9l4-5.6l4-4.5l6-5.5l12-9l16-9.6l18-9l20-8.6l24-8.8l22-7l22-6.2l20-4.7l26-5.3l32-5.7l34-5.3l36-4.8l36-4.2l42-4.2l44-3.5l44-2.7l42-1.8l42-1l40-0.2l40 0.6l36 1.4l32 2.2l28 2.8l22 3.4l22 4.6l18 5.1l14 5.6l6 3.3l4 2.9l4 4l2 3.3l0 45.9l-30 6.7l-14 11.2l-16 13.7l-16 14.8l-16 15.7l-26 27.5l-30 34.4l-28 33.9l-62 77.2l-28 33.3l-26 28.7l-24 23.6l-12 10.5l-12 9.5l-12 8.4l-12 7.2l-12 5.8l-10 3.8l-10 2.5l-10 1.2l-12 0.1l-12-1.4l-10-2.2l-12-4.1l-12-5.5l-12-6.7l-14-9.1l-14-10.4l-22-18.3l-24-22.1l-78-77.7l-28-27l-24-21.7l-22-18.5l-16-12.5l-14-10.1l-14-9.3l-14-8.5l-14-7.7l-14-6.7l-14-5.8l-12-4.2l-2-25.2l-2-6.3z" fill="#363636"/>
<path d="M756 344.7l2-5.3l2-3.5l6-7.7l10-9.1l14-9.8l16-9l18-8.6l20-8.2l22-7.8l22-6.9l22-5.9l20-4.6l26-5.2l30-5.2l34-5.2l34-4.5l36-4.2l42-4l42-3.3l42-2.6l42-1.8l40-1l40-0.2l38 0.6l36 1.4l32 2.2l28 2.8l22 3.4l20 4.2l18 5l14 5.5l6 3.3l4 2.8l4 3.8l2 2.9l0 44.2l-24 5.4l-16 12.8l-18 15.7l-16 15l-18 18l-26 28.1l-28 32.4l-26 31.7l-58 72.2l-28 33.5l-26 28.9l-24 23.9l-12 10.6l-12 9.7l-12 8.6l-12 7.3l-12 6.1l-10 4l-10 2.8l-10 1.5l-10 0.3l-12-0.9l-10-1.8l-10-2.9l-10-3.9l-12-5.9l-12-7l-12-8.1l-22-17l-26-22.9l-26-25l-56-56.2l-26-25.4l-28-25.8l-26-22l-28-21.2l-14-9.4l-14-8.6l-14-7.8l-14-6.9l-14-6l-12-4.2z" fill="#383838"/>
<path d="M762 345.2l4-7.6l4-5.2l4-4.1l10-8.4l14-9.3l16-8.7l20-9.2l22-8.6l22-7.5l22-6.5l20-5.1l24-5.1l28-5.3l32-5.2l34-4.8l70-8.1l42-3.8l42-2.9l42-2.3l40-1.3l40-0.7l40 0.2l36 0.9l34 1.8l30 2.4l24 3l22 4l20 4.9l16 5.4l6 2.8l6 3.4l6 5l2 2.5l2 4.8l0 37.5l-20 4.5l-16 12.8l-18 15.7l-18 17l-18 18.1l-26 28.2l-26 30.2l-26 31.7l-58 72.2l-26 31.2l-26 29.1l-24 24.1l-12 10.8l-12 9.8l-12 8.8l-12 7.6l-12 6.3l-10 4.2l-10 3.1l-10 1.7l-10 0.5l-12-0.6l-12-2.1l-10-2.9l-10-3.9l-12-5.9l-12-7l-12-8.1l-22-17l-26-22.9l-26-25l-80-79.7l-28-25.9l-24-20.6l-28-21.5l-14-9.7l-14-8.8l-14-8.1l-12-6.2l-14-6.3l-12-4.7z" fill="#3a3a3a"/>
<path d="M766 352.6l2-6.7l2-3.8l4-5.5l4-4.4l6-5.4l12-8.9l14-8.3l18-9l20-8.5l22-8l22-7l22-6l20-4.7l24-4.8l30-5.3l32-4.9l34-4.6l36-4.2l40-3.9l42-3.4l42-2.5l42-1.8l40-1l40-0.2l38 0.7l34 1.4l32 2.2l26 2.8l22 3.6l20 4.3l16 4.7l14 5.9l6 3.7l4 3.3l2 2.3l2 3.4l0 37.3l-14 3.2l-10 7.9l-16 13.5l-16 14.5l-16 15.5l-18 18.5l-24 26.5l-26 30.4l-78 96.7l-26 31.3l-26 29.3l-24 24.3l-14 12.7l-12 9.8l-12 8.8l-12 7.6l-12 6.3l-10 4.2l-10 3.1l-10 1.7l-10 0.5l-12-0.6l-12-2.1l-10-2.9l-10-3.9l-12-5.9l-12-7l-12-8.1l-22-17l-26-22.9l-26-25l-80-79.7l-26-24.2l-24-20.6l-28-21.8l-26-17.5l-14-8.3l-12-6.4l-14-6.6l-12-4.9z" fill="#3c3c3c"/>
<path d="M772 351.4l4-8l4-5.1l4-4.2l10-8.4l12-8l14-7.8l18-8.5l20-8.1l22-7.7l20-6.1l22-5.9l20-4.4l26-5.1l30-5.1l32-4.8l66-8l40-3.8l40-3.1l40-2.4l40-1.7l40-0.9l38-0.2l36 0.7l34 1.3l30 2.1l26 2.7l20 3l20 4.2l16 4.4l14 5.4l6 3.2l4 2.7l4 3.7l2 2.7l0 36.6l-8 1.8l-24 19.6l-28 25.9l-28 28.7l-24 26.7l-24 28.3l-76 94.3l-26 31.3l-26 29.3l-22 22.4l-14 12.9l-12 10l-12 8.9l-12 7.8l-12 6.6l-12 5.1l-10 3.1l-10 1.7l-10 0.5l-12-0.6l-12-2.1l-10-2.9l-10-3.9l-12-5.9l-12-7l-14-9.5l-22-17.3l-26-23.1l-26-25.1l-76-75.8l-26-24.3l-24-20.8l-26-20.4l-26-18l-14-8.5l-12-6.6l-12-6l-12-5.3z" fill="#3e3e3e"/>
<path d="M776 358l2-6.6l2-3.8l4-5.5l4-4.3l6-5.4l12-8.7l14-8.2l18-8.9l20-8.3l20-7.3l20-6.3l22-6.1l20-4.6l24-4.8l28-4.9l32-4.9l34-4.6l34-3.9l40-3.9l40-3.2l42-2.6l40-1.7l40-0.9l38-0.2l38 0.7l34 1.5l30 2.1l26 2.9l20 3.3l20 4.4l16 4.9l12 5.2l6 3.6l4 3.3l2 2.3l2 3.5l0 31.5l-4 1l-2 1.6l-16 12.9l-16 14l-24 22.9l-26 27.1l-22 24.7l-24 28.4l-72 89.4l-26 31.4l-26 29.5l-24 24.6l-14 12.9l-12 10l-12 8.9l-12 7.8l-12 6.6l-12 5.1l-10 3.1l-10 1.7l-10 0.5l-12-0.6l-12-2.1l-10-2.9l-10-3.9l-12-5.9l-12-7l-14-9.5l-22-17.3l-26-23.1l-26-25.1l-76-75.8l-24-22.5l-24-20.9l-26-20.7l-26-18.1l-24-14.3l-12-6.2l-12-5.5z" fill="#404040"/>
<path d="M782 356.2l4-7.6l4-5l4-4.1l10-8.2l14-9.1l16-8.4l18-8.1l20-7.8l22-7.3l20-5.8l20-5.1l24-5l28-5.1l30-4.8l32-4.5l68-7.7l40-3.4l40-2.8l40-2l38-1.2l38-0.5l38 0.3l34 1l32 1.8l26 2.3l22 2.8l22 4.2l18 4.7l14 5l10 5.3l6 5.1l2 2.6l2 5.4l0 25.4l-22 17.9l-22 19.9l-22 21.7l-22 23.4l-20 22.6l-22 26.1l-72 89.4l-26 31.4l-26 29.5l-22 22.7l-14 13l-12 10.2l-14 10.5l-12 7.8l-12 6.6l-12 5.1l-10 3.1l-10 1.7l-10 0.5l-12-0.6l-12-2.1l-10-2.9l-10-3.9l-12-5.9l-12-7l-14-9.5l-22-17.3l-26-23.1l-26-25.1l-76-75.8l-24-22.5l-22-19.2l-26-20.9l-24-17l-24-14.7l-22-11.2z" fill="#424242"/>
<path d="M786 361.2l2-5.2l2-3.5l6-7.5l8-7.2l12-8.5l14-8.1l18-8.7l20-8.2l20-7.1l20-6.2l20-5.4l20-4.5l24-4.7l30-5.2l30-4.5l66-8.1l38-3.6l40-3.1l40-2.4l38-1.5l38-0.9l38-0.1l36 0.7l32 1.4l30 2.1l24 2.7l20 3.3l18 3.9l16 4.8l12 5.1l8 5l4 3.9l2 3.1l0 30.3l-20 16.7l-22 20.2l-20 19.9l-22 23.6l-20 22.8l-22 26.2l-70 86.9l-26 31.4l-26 29.5l-22 22.7l-14 13l-12 10.2l-14 10.5l-12 7.8l-12 6.6l-12 5.1l-10 3.1l-10 1.7l-10 0.5l-12-0.6l-12-2.1l-10-2.9l-10-3.9l-12-5.9l-12-7l-14-9.5l-22-17.3l-26-23.1l-26-25.1l-74-73.8l-24-22.6l-22-19.4l-24-19.5l-24-17.4l-24-15.1l-22-11.6z" fill="#444444"/>
<path d="M790 367.6l2-7.6l2-3.7l4-5.5l8-8l10-7.6l14-8.5l16-8.2l18-7.8l22-8.1l20-6.4l20-5.6l18-4.3l24-4.9l28-4.9l32-5l66-8.3l38-3.7l40-3.2l40-2.4l40-1.7l38-0.9l38-0.1l36 0.7l32 1.4l28 2.1l24 2.6l20 3.3l20 4.5l16 5l12 5.5l4 2.6l4 3.4l2 2.4l2 3.7l0 28.1l-20 17l-20 18.6l-20 20.1l-22 23.7l-20 22.9l-20 23.9l-70 86.9l-24 29.1l-26 29.6l-22 22.9l-14 13.2l-12 10.4l-14 10.7l-12 8l-12 6.8l-12 5.3l-12 3.9l-10 1.7l-10 0.5l-12-0.6l-12-2.1l-10-2.9l-12-4.8l-12-6.1l-12-7.2l-14-9.7l-22-17.5l-26-23.3l-24-23.2l-74-73.8l-22-20.8l-22-19.5l-24-19.7l-24-17.5l-22-14.1l-22-12.1z" fill="#464646"/>
<path d="M796 364.1l4-7.2l4-4.9l4-4l10-8.1l12-7.7l14-7.5l18-8.2l20-7.8l22-7.3l20-5.8l18-4.5l24-5l26-4.7l60-9l66-7.4l38-3.3l38-2.7l38-1.9l38-1.2l36-0.5l36 0.2l34 1.1l30 1.6l26 2.3l20 2.6l20 3.8l18 4.6l14 5l10 5.2l6 5l2 2.5l2 4.9l0 25.6l-20 17.3l-20 18.9l-20 20.4l-20 21.8l-20 22.9l-20 24l-68 84.5l-24 29.1l-26 29.6l-22 22.9l-14 13.2l-12 10.4l-14 10.7l-12 8l-12 6.8l-12 5.3l-12 3.9l-10 1.7l-10 0.5l-12-0.6l-12-2.1l-10-2.9l-12-4.8l-12-6.1l-12-7.2l-14-9.7l-22-17.5l-26-23.3l-24-23.2l-72-71.9l-22-20.9l-22-19.6l-24-19.8l-22-16.4l-22-14.4l-20-11.4z" fill="#484848"/>
<path d="M800 368.1l4-7.8l6-7.1l10-8.6l12-8l14-7.7l18-8.3l18-7.1l20-6.9l18-5.4l20-5.2l44-9l58-9.1l62-7.4l36-3.4l38-2.9l38-2.2l36-1.5l36-0.8l36-0.1l34 0.7l30 1.3l28 1.9l24 2.6l18 2.9l18 3.9l16 4.7l12 4.9l8 4.9l4 3.7l2 2.8l0 30.9l-18 16l-20 19.2l-18 18.5l-20 21.9l-38 44.7l-68 84.5l-24 29.1l-26 29.6l-22 22.9l-14 13.2l-12 10.4l-14 10.7l-12 8l-12 6.8l-12 5.3l-12 3.9l-10 1.7l-10 0.5l-12-0.6l-12-2.1l-10-2.9l-12-4.8l-12-6.1l-12-7.2l-14-9.7l-22-17.5l-26-23.3l-24-23.2l-72-71.9l-22-20.9l-20-17.9l-22-18.3l-22-16.7l-22-14.8l-20-11.8z" fill="#4a4a4a"/>
<path d="M804 372l2-5l2-3.3l6-7.2l8-7.1l12-8.3l14-7.9l16-7.6l18-7.3l20-7.1l20-6.1l20-5.2l42-8.6l28-4.8l30-4.4l62-7.5l36-3.4l38-2.9l38-2.2l36-1.4l36-0.8l36-0.1l34 0.7l30 1.4l26 1.9l24 2.6l18 3l18 4l14 4.2l12 5l8 5l4 3.8l2 3l0 29.8l-18 16.3l-18 17.5l-18 18.7l-20 22l-38 44.8l-64 79.6l-26 31.6l-26 29.6l-22 22.9l-14 13.2l-12 10.4l-14 10.7l-12 8l-12 6.8l-12 5.3l-12 3.9l-10 1.7l-10 0.5l-12-0.6l-12-2.1l-10-2.9l-12-4.8l-12-6.1l-12-7.2l-14-9.7l-22-17.5l-26-23.3l-26-25.2l-68-68l-22-20.9l-20-18l-22-18.5l-22-16.9l-20-13.7l-20-12.1z" fill="#4c4c4c"/>
<path d="M808 375.9l2-5.5l2-3.4l4-5.2l8-7.7l12-8.6l14-8.1l16-7.7l18-7.4l20-7.1l18-5.6l20-5.4l18-4l24-4.7l28-4.8l30-4.5l62-7.5l36-3.4l38-2.9l38-2.2l36-1.4l36-0.7l34-0.1l34 0.7l30 1.4l28 2.1l22 2.5l18 3.1l18 4.1l14 4.4l12 5.4l4 2.5l4 3.2l4 5.4l0 28.9l-18 16.6l-18 17.7l-18 19l-18 20l-36 42.5l-64 79.6l-26 31.6l-26 29.6l-22 22.9l-14 13.2l-12 10.4l-14 10.7l-12 8l-12 6.8l-12 5.3l-12 3.9l-10 1.7l-10 0.5l-12-0.6l-12-2.1l-10-2.9l-12-4.8l-12-6.1l-12-7.2l-14-9.7l-22-17.5l-26-23.3l-26-25.2l-68-68l-20-19l-20-18.2l-22-18.6l-20-15.5l-20-14.1l-20-12.4z" fill="#4e4e4e"/>
<path d="M812 379.6l2-5.9l2-3.6l4-5.2l8-7.7l12-8.6l12-7l16-7.8l18-7.5l20-7.2l18-5.6l20-5.4l18-4.1l24-4.6l56-9l62-7.5l36-3.5l36-2.7l38-2.3l36-1.4l36-0.8l34 0l34 0.7l30 1.4l26 1.9l22 2.5l18 3.1l18 4.1l14 4.4l12 5.4l4 2.5l4 3.3l2 2.2l2 3.4l0 28.2l-16 14.9l-18 17.9l-16 16.9l-18 20l-36 42.5l-64 79.6l-26 31.6l-26 29.6l-22 22.9l-14 13.2l-12 10.4l-14 10.7l-12 8l-12 6.8l-12 5.3l-12 3.9l-10 1.7l-12 0.5l-12-0.9l-12-2.3l-10-3.1l-12-5l-12-6.3l-12-7.4l-14-9.9l-22-17.7l-26-23.5l-24-23.3l-66-66l-20-19.2l-20-18.2l-22-18.8l-20-15.7l-20-14.1l-18-11.4z" fill="#505050"/>
<path d="M816 383.2l2-6.4l2-3.6l4-5.3l8-7.6l10-7.3l12-7.2l16-8l18-7.6l20-7.2l18-5.6l20-5.4l40-8.4l28-4.9l28-4.2l62-7.5l36-3.5l36-2.7l38-2.3l36-1.4l36-0.7l34 0l32 0.6l30 1.4l26 2l22 2.6l18 3.1l18 4.3l14 4.6l10 4.6l4 2.5l4 3.3l2 2.3l2 3.4l0 27.8l-16 15.2l-16 16l-16 17l-18 20.1l-36 42.8l-62 77.1l-24 29.2l-26 29.8l-24 25.1l-14 13.2l-12 10.4l-14 10.7l-12 8l-12 6.8l-12 5.3l-12 3.9l-10 1.7l-12 0.5l-12-0.9l-12-2.3l-10-3.1l-12-5l-12-6.3l-12-7.4l-14-9.9l-22-17.7l-26-23.5l-24-23.3l-66-66l-20-19.2l-20-18.2l-20-17.1l-20-15.9l-18-12.9l-18-11.7z" fill="#525252"/>
<path d="M820 386.3l2-6.5l2-3.6l4-5.3l8-7.6l10-7.3l12-7.1l16-8l18-7.5l18-6.5l18-5.6l20-5.5l40-8.4l28-4.8l28-4.2l60-7.4l36-3.4l36-2.8l36-2.1l36-1.4l36-0.8l34 0l32 0.7l30 1.4l24 1.8l22 2.5l18 3.2l18 4.2l14 4.5l10 4.7l4 2.5l4 3.3l2 2.3l2 3.4l0 27.6l-16 15.4l-16 16.3l-32 35.2l-34 40.5l-62 77.1l-24 29.2l-26 29.8l-22 23.1l-14 13.4l-14 12.2l-14 10.7l-12 8l-12 6.8l-12 5.3l-12 3.9l-10 1.7l-12 0.5l-12-0.9l-12-2.3l-10-3.1l-12-5l-12-6.3l-12-7.4l-14-9.9l-22-17.7l-26-23.5l-24-23.3l-66-66l-38-35.6l-20-17.3l-18-14.4l-18-13.3l-18-11.9z" fill="#545454"/>
<path d="M824 389.1l2-6.5l2-3.5l4-5.3l8-7.5l10-7.3l12-7.1l16-7.9l16-6.7l18-6.5l18-5.7l20-5.5l38-8l28-4.9l28-4.2l60-7.4l34-3.3l36-2.8l36-2.1l36-1.5l34-0.7l34-0.1l32 0.6l30 1.4l26 2l22 2.6l18 3.2l16 3.8l14 4.5l10 4.6l4 2.5l4 3.3l2 2.3l2 3.4l0 27.6l-30 30l-32 35.4l-32 38.2l-62 77.1l-24 29.2l-26 29.8l-22 23.1l-14 13.4l-14 12.2l-14 10.7l-12 8l-12 6.8l-12 5.3l-12 3.9l-10 1.7l-12 0.5l-12-0.9l-12-2.3l-10-3.1l-12-5l-12-6.3l-12-7.4l-14-9.9l-22-17.7l-26-23.5l-24-23.3l-66-66l-36-33.9l-20-17.3l-18-14.6l-18-13.3l-16-10.9z" fill="#565656"/>
<path d="M828 391.5l2-6.1l2-3.5l4-5.2l8-7.5l10-7.2l12-7.1l16-7.8l16-6.6l18-6.5l18-5.6l18-4.9l18-4.2l22-4.3l54-8.7l60-7.3l34-3.3l36-2.7l36-2.1l34-1.4l34-0.7l34-0.1l32 0.7l28 1.4l24 1.8l22 2.5l18 3.2l16 3.7l14 4.5l10 4.6l4 2.5l4 3.2l2 2.3l2 3.2l0 27.9l-28 28.3l-30 33.3l-32 38.2l-62 77.1l-24 29.2l-26 29.8l-22 23.1l-14 13.4l-14 12.2l-14 10.7l-12 8l-12 6.8l-12 5.3l-12 3.9l-10 1.7l-12 0.5l-12-0.9l-12-2.3l-10-3.1l-12-5l-12-6.3l-12-7.4l-14-9.9l-22-17.7l-26-23.5l-24-23.3l-64-64.1l-36-34l-18-15.7l-18-14.8l-18-13.7l-16-11.1z" fill="#585858"/>
<path d="M832 393.6l2-5.6l2-3.4l4-5.1l8-7.4l10-7.2l12-7l16-7.7l18-7.4l18-6.3l18-5.5l18-4.7l40-8.2l52-8.3l58-7l34-3.2l34-2.6l36-2.1l34-1.3l34-0.7l32-0.1l30 0.7l28 1.3l24 1.7l22 2.5l18 3.1l16 3.8l14 4.4l10 4.6l4 2.4l4 3.2l4 5.3l0 28.3l-28 28.7l-28 31.3l-32 38.3l-60 74.7l-24 29.2l-26 29.8l-22 23.1l-14 13.4l-14 12.2l-14 10.7l-12 8l-12 6.8l-12 5.3l-12 3.9l-10 1.7l-12 0.5l-12-0.9l-12-2.3l-10-3.1l-12-5l-12-6.3l-12-7.4l-14-9.9l-22-17.7l-26-23.5l-24-23.3l-64-64.1l-36-34l-18-15.7l-16-13.2l-16-12.3l-16-11.4z" fill="#5a5a5a"/>
<path d="M836 395.7l2-5.2l2-3.3l4-4.9l8-7.4l12-8.3l12-6.7l16-7.5l16-6.5l18-6.2l16-4.9l18-4.7l40-8.3l52-8.2l58-6.9l34-3.2l34-2.6l34-1.9l34-1.4l32-0.6l32-0.1l30 0.7l28 1.3l24 1.8l22 2.5l16 2.8l16 3.7l14 4.4l10 4.5l8 5.5l4 5l0 28.9l-26 27l-28 31.5l-30 35.9l-60 74.7l-24 29.2l-26 29.8l-22 23.1l-14 13.4l-14 12.2l-14 10.7l-12 8l-12 6.8l-12 5.3l-12 3.9l-10 1.7l-12 0.5l-12-0.9l-12-2.3l-10-3.1l-12-5l-12-6.3l-12-7.4l-14-9.9l-22-17.7l-26-23.5l-24-23.3l-64-64.1l-34-32.2l-18-15.8l-16-13.3l-16-12.5l-14-10.1z" fill="#5c5c5c"/>
<path d="M840 397.7l2-4.7l2-3.2l6-6.9l8-6.7l10-6.7l12-6.6l16-7.5l16-6.4l18-6.1l18-5.4l16-4.2l40-8l52-8.2l56-6.6l34-3.2l34-2.5l66-3.1l32-0.7l32 0l30 0.7l26 1.3l24 1.8l20 2.3l16 2.7l16 3.7l14 4.4l10 4.4l8 5.4l4 4.7l0 29.6l-24 25.1l-26 29.4l-30 35.9l-60 74.7l-24 29.2l-26 29.8l-22 23.1l-14 13.4l-14 12.2l-14 10.7l-12 8l-12 6.8l-12 5.3l-12 3.9l-10 1.7l-12 0.5l-12-0.9l-12-2.3l-10-3.1l-12-5l-12-6.3l-12-7.4l-14-9.9l-22-17.7l-26-23.5l-24-23.3l-62-62.1l-34-32.3l-32-27.8l-16-12.6l-14-10.3z" fill="#5e5e5e"/>
<path d="M844 399.7l4-7.3l6-6.7l8-6.7l12-7.8l14-7.4l14-6.2l18-6.9l18-5.9l18-5.2l16-3.9l22-4.5l24-4.2l54-7.9l56-6.2l34-2.8l34-2.2l34-1.7l32-0.9l32-0.3l30 0.4l28 1l26 1.6l20 1.9l16 2.2l18 3.7l16 4.4l12 4.7l8 4.7l4 3.5l2 2.6l2 4.9l0 23.4l-24 25.3l-26 29.5l-28 33.6l-60 74.7l-24 29.2l-26 29.8l-22 23.1l-14 13.4l-14 12.2l-14 10.7l-12 8l-12 6.8l-12 5.3l-12 3.9l-10 1.7l-12 0.5l-12-0.9l-12-2.3l-10-3.1l-12-5l-12-6.3l-12-7.4l-14-9.9l-22-17.7l-26-23.5l-24-23.3l-62-62.1l-34-32.3l-30-26.1l-28-21.8z" fill="#606060"/>
<path d="M848 401.8l4-6.9l6-6.6l8-6.5l12-7.7l14-7.3l14-6.2l18-6.8l18-5.9l16-4.5l16-3.9l44-8.4l52-7.7l56-6.2l66-5.1l64-2.6l32-0.4l30 0.3l28 0.9l26 1.5l20 1.8l18 2.4l18 3.6l14 3.7l12 4.4l8 4.1l6 4.7l2 2.4l2 3.9l0 25.3l-26 27.8l-28 32.3l-26 31.6l-60 74.7l-24 28.9l-22 24.9l-20 20.9l-14 13.4l-14 12.2l-14 10.7l-12 8l-12 6.8l-12 5.3l-12 3.9l-10 1.7l-12 0.5l-12-0.9l-12-2.3l-10-3.1l-12-5l-12-6.3l-12-7.4l-14-9.9l-22-17.7l-26-23.5l-24-23.3l-62-62.1l-32-30.5l-28-24.6l-28-22.1z" fill="#626262"/>
<path d="M852 403.8l4-6.4l6-6.4l8-6.4l12-7.6l14-7.2l14-6.2l16-6l18-5.9l16-4.6l16-3.9l44-8.4l52-7.6l54-6l64-5l64-2.6l30-0.4l30 0.2l28 0.8l24 1.4l22 1.9l18 2.3l16 3.1l14 3.5l12 4.1l10 4.9l6 4.5l2 2.2l2 3.3l0 26.8l-26 28.2l-26 30.2l-26 31.7l-56 69.8l-26 31.3l-22 24.9l-20 20.9l-14 13.4l-14 12.2l-14 10.7l-12 8l-12 6.8l-12 5.3l-12 3.9l-10 1.7l-12 0.5l-12-0.9l-12-2.3l-10-3.1l-12-5l-12-6.3l-12-7.4l-14-9.9l-22-17.7l-26-23.5l-24-23.3l-62-62.1l-30-28.7l-28-24.7l-26-20.9z" fill="#646464"/>
<path d="M854 411.7l2-5.8l2-3.4l4-5l8-7.2l8-5.7l12-7l14-6.7l16-6.6l16-5.7l16-4.9l18-4.9l36-7.5l50-8l54-6.5l64-5.6l34-2l32-1.2l32-0.7l30 0l28 0.6l26 1.2l22 1.7l20 2.2l16 2.8l16 3.8l12 3.8l10 4.4l8 5.4l4 5l0 28.2l-24 26.3l-26 30.3l-80 99.1l-26 31.3l-24 27.1l-20 20.7l-14 13.2l-14 12l-14 10.5l-12 7.8l-12 6.6l-12 5.1l-10 3.1l-12 1.9l-12 0.3l-12-1.2l-10-2l-12-3.8l-12-5.3l-12-6.5l-12-7.5l-14-10.1l-22-17.9l-26-23.7l-24-23.4l-58-58.1l-32-30.7l-26-23l-26-21z" fill="#666666"/>
<path d="M858 412.6l2-4.7l2-3.1l6-6.8l8-6.5l10-6.5l12-6.5l16-7.2l16-6.2l18-5.9l16-4.6l16-3.9l44-8.4l52-7.6l54-5.9l64-4.8l32-1.5l32-1l30-0.2l30 0.4l28 1l24 1.6l18 1.8l16 2.3l18 3.8l14 4.1l10 4l8 4.7l4 3.5l2 2.6l2 5.3l0 22.1l-24 26.5l-26 30.4l-78 96.7l-24 28.9l-24 27.3l-22 22.9l-14 13.2l-12 10.4l-14 10.7l-12 8l-12 6.8l-12 5.3l-12 3.9l-10 1.7l-12 0.5l-12-0.9l-12-2.3l-10-3.1l-12-5l-12-6.3l-12-7.4l-14-9.9l-22-17.7l-26-23.5l-24-23.3l-60-60.1l-30-28.8l-26-23.2l-24-19.7z" fill="#686868"/>
<path d="M862 414.1l4-7l6-6.5l8-6.4l10-6.5l12-6.3l14-6.3l16-6.2l18-6l16-4.6l16-3.9l42-8.1l50-7.3l54-6l62-4.8l62-2.5l58-0.1l28 0.9l24 1.4l20 1.8l18 2.5l16 3.2l14 3.9l12 4.5l8 4.5l4 3.4l2 2.3l2 3.7l0 25.1l-24 26.7l-24 28.3l-74 91.8l-26 31.4l-24 27.3l-22 22.9l-14 13.2l-12 10.4l-14 10.7l-12 8l-12 6.8l-12 5.3l-12 3.9l-10 1.7l-12 0.5l-12-0.9l-12-2.3l-10-3.1l-12-5l-12-6.3l-12-7.4l-14-9.9l-20-16l-22-19.5l-26-25l-58-58.2l-26-25.3l-30-27.4l-26-21.7z" fill="#6a6a6a"/>
<path d="M866 415.7l4-6.3l6-6.3l8-6.3l10-6.3l12-6.3l14-6.2l16-6.1l18-5.9l30-7.9l42-8l50-7.4l52-5.8l60-4.6l60-2.5l58-0.3l26 0.8l24 1.3l20 1.7l18 2.3l14 2.7l14 3.4l12 4l10 4.8l6 4.3l4 5.2l0 27.1l-22 24.7l-24 28.4l-72 89.4l-26 31.4l-24 27.3l-22 22.9l-14 13.2l-12 10.4l-14 10.7l-12 8l-12 6.8l-12 5.3l-12 3.9l-10 1.7l-12 0.5l-12-0.9l-12-2.3l-10-3.1l-12-5l-12-6.3l-12-7.4l-14-9.9l-20-16l-22-19.5l-26-25l-56-56.2l-26-25.4l-28-25.8l-26-22z" fill="#6c6c6c"/>
<path d="M868 422.9l2-5.4l2-3.2l4-4.9l8-7l8-5.5l12-6.8l12-5.7l16-6.6l16-5.6l16-4.8l16-4.2l36-7.4l46-7.2l52-6.3l62-5.3l60-2.9l58-0.7l28 0.6l24 1.1l22 1.7l18 2l14 2.4l16 3.6l12 3.7l10 4.3l8 5.2l4 4.6l0 28.9l-20 22.6l-22 26.1l-72 89.4l-24 29.1l-26 29.6l-22 22.9l-14 13.2l-14 12l-14 10.5l-12 7.8l-12 6.6l-12 5.1l-10 3.1l-12 1.9l-12 0.3l-12-1.2l-10-2l-12-3.8l-12-5.3l-12-6.5l-12-7.5l-14-10.1l-20-16.2l-22-19.7l-24-23.1l-56-56.2l-26-25.4l-28-25.8l-24-20.4z" fill="#6e6e6e"/>
<path d="M872 423.7l2-4.3l2-3l4-4.6l8-6.8l10-6.6l12-6.5l14-6.3l16-6.2l16-5.3l30-8.2l42-8.1l48-7.1l52-5.8l60-4.6l60-2.5l56-0.2l26 0.8l24 1.4l20 1.8l16 2.2l16 3.2l14 3.7l12 4.6l8 4.4l4 3.3l2 2.3l2 3.8l0 24.6l-20 22.8l-22 26.2l-70 86.9l-24 29.1l-26 29.6l-22 22.9l-14 13.2l-12 10.4l-14 10.7l-12 8l-12 6.8l-12 5.3l-12 3.9l-10 1.7l-12 0.5l-12-0.9l-12-2.3l-10-3.1l-12-5l-12-6.3l-12-7.4l-14-9.9l-20-16l-24-21.4l-24-23.1l-80-79.7l-26-24.2l-24-20.6z" fill="#707070"/>
<path d="M876 425l4-6.4l6-6.2l8-6.2l10-6.2l12-6.2l14-6.1l16-6l16-5.2l16-4.4l14-3.4l40-7.5l48-7l50-5.5l58-4.5l58-2.4l56-0.2l26 0.8l22 1.3l20 1.8l16 2l14 2.7l14 3.5l12 4.2l8 3.9l6 4.3l4 5.1l0 27l-20 22.9l-20 24l-68 84.5l-24 29.1l-26 29.6l-24 24.9l-14 13l-12 10.2l-14 10.5l-12 7.8l-12 6.6l-12 5.1l-10 3.1l-12 1.9l-10 0.3l-12-0.9l-12-2.3l-10-3.1l-12-5l-12-6.3l-12-7.4l-14-9.9l-20-16l-24-21.4l-26-25.1l-76-75.8l-24-22.5l-24-20.9z" fill="#727272"/>
<path d="M878 432.1l2-5.5l2-3.2l4-4.8l8-7l8-5.4l12-6.7l12-5.6l16-6.4l16-5.4l30-8.3l40-7.9l48-7.2l54-6.1l62-4.7l60-2.2l28-0.3l28 0.4l26 1l22 1.5l18 1.9l14 2.1l16 3.4l14 4.2l10 4.2l8 5.1l4 4.4l2 5.1l0 21.7l-38 44.7l-68 84.5l-24 29.1l-26 29.6l-24 24.9l-14 13l-12 10.2l-14 10.5l-12 7.8l-12 6.6l-12 5.1l-10 3.1l-12 1.9l-10 0.3l-12-0.9l-12-2.3l-10-3.1l-12-5l-12-6.3l-12-7.4l-14-9.9l-22-17.7l-24-21.6l-24-23.2l-74-73.8l-26-24.5l-22-19.2z" fill="#747474"/>
<path d="M882 432.5l2-4.2l2-2.9l4-4.5l8-6.7l10-6.5l12-6.4l12-5.4l16-6.1l16-5.3l16-4.6l14-3.4l40-7.6l46-6.8l50-5.5l58-4.5l58-2.3l54-0.1l26 0.8l22 1.3l18 1.7l16 2.1l16 3.3l12 3.2l10 3.6l8 3.9l6 4.5l2 2.2l2 3.3l0 25.4l-36 42.5l-64 79.6l-26 31.6l-26 29.6l-24 24.9l-14 13l-12 10.2l-14 10.5l-12 7.8l-12 6.6l-12 5.1l-10 3.1l-12 1.9l-10 0.3l-12-0.9l-12-2.3l-10-3.1l-12-5l-12-6.3l-12-7.4l-14-9.9l-22-17.7l-24-21.6l-24-23.2l-74-73.8l-22-20.8l-22-19.5z" fill="#767676"/>
<path d="M886 433.7l4-6.2l6-6.1l8-6l8-5l12-6.3l12-5.3l16-6l16-5.2l28-7.4l40-7.6l46-6.7l48-5.4l56-4.3l56-2.4l54-0.2l46 1.9l20 1.8l16 2.1l14 2.7l12 3l12 4l8 3.8l6 4.2l4 4.6l0 27.8l-34 40.5l-62 77.1l-26 31.6l-26 29.6l-24 24.9l-14 13l-12 10.2l-14 10.5l-12 7.8l-12 6.6l-12 5.1l-10 3.1l-12 1.9l-10 0.3l-12-0.9l-12-2.3l-10-3.1l-12-5l-12-6.3l-12-7.4l-14-9.9l-22-17.7l-24-21.6l-24-23.2l-72-71.9l-22-20.9l-20-17.9z" fill="#787878"/>
<path d="M888 440.1l2-4.9l2-3.1l4-4.6l8-6.8l8-5.3l12-6.5l12-5.5l14-5.5l16-5.4l28-7.7l38-7.5l46-7l50-5.6l58-4.6l58-2.3l54-0.1l24 0.8l22 1.3l18 1.7l16 2.2l16 3.4l12 3.3l10 3.9l8 4.3l4 3.3l2 2.3l2 3.8l0 23.8l-32 38.2l-62 77.1l-26 31.6l-26 29.6l-24 24.9l-14 13l-12 10.2l-14 10.5l-12 7.8l-12 6.6l-12 5.1l-10 3.1l-12 1.9l-10 0.3l-12-0.9l-12-2.3l-10-3.1l-12-5l-12-6.3l-12-7.4l-14-9.9l-22-17.7l-24-21.6l-26-25.2l-68-68l-22-20.9l-20-18z" fill="#7a7a7a"/>
<path d="M892 440.7l4-6.6l4-4.3l8-6.6l10-6.3l12-6.2l12-5.3l14-5.3l16-5.2l28-7.4l38-7.2l44-6.5l48-5.4l56-4.3l54-2.3l52-0.2l24 0.7l22 1.2l18 1.6l16 2l14 2.7l12 3l12 4l8 3.8l6 4.2l4 4.9l0 26.8l-30 35.9l-60 74.7l-26 31.6l-28 31.8l-24 24.6l-14 12.9l-12 10l-14 10.3l-12 7.6l-12 6.3l-12 4.9l-10 2.8l-10 1.5l-10 0.3l-12-0.9l-12-2.3l-10-3.1l-12-5l-12-6.3l-12-7.4l-14-9.9l-22-17.7l-26-23.5l-24-23.3l-66-66l-20-19.2l-20-18.2z" fill="#7c7c7c"/>
<path d="M894 448.3l2-6.3l4-5.8l6-5.9l8-5.9l10-5.9l12-5.9l14-5.9l16-5.6l14-4.3l16-4.3l34-6.8l46-7.2l50-5.8l58-4.6l56-2.3l54-0.2l24 0.8l22 1.4l18 1.7l14 1.9l16 3.4l12 3.3l10 3.8l8 4.4l4 3.3l2 2.4l2 4.2l0 22.6l-28 33.6l-60 74.7l-26 31.6l-28 31.8l-24 24.6l-14 12.9l-12 10l-14 10.3l-12 7.6l-12 6.3l-12 4.9l-10 2.8l-10 1.5l-10 0.3l-12-0.9l-12-2.3l-10-3.1l-12-5l-12-6.3l-12-7.4l-14-9.9l-22-17.7l-26-23.5l-24-23.3l-66-66l-38-35.6z" fill="#7e7e7e"/>
<path d="M898 447.7l2-4.2l2-2.9l4-4.4l8-6.5l8-5.2l12-6.3l12-5.4l14-5.4l14-4.6l28-7.5l36-7l44-6.6l48-5.4l54-4.2l54-2.3l52-0.2l44 1.8l18 1.6l16 2.1l14 2.8l12 3.1l10 3.4l8 3.8l6 4.3l4 5l0 26l-26 31.4l-58 72.2l-26 31.6l-28 31.8l-24 24.6l-14 12.9l-12 10l-14 10.3l-12 7.6l-12 6.3l-12 4.9l-10 2.8l-10 1.5l-10 0.3l-12-0.9l-12-2.3l-10-3.1l-12-5l-12-6.3l-12-7.4l-14-9.9l-22-17.7l-26-23.5l-24-23.3l-64-64.1l-36-34z" fill="#808080"/>
<path d="M902 448.6l4-6l6-5.9l8-5.9l10-5.9l12-5.8l12-5l14-5.1l16-5l14-3.7l16-3.5l40-7.1l44-6l48-4.9l54-3.7l54-1.7l48 0.5l22 1l20 1.5l16 1.8l12 2l14 3.2l12 3.7l10 4.4l6 3.9l4 4.3l2 4.6l0 21.6l-24 29l-58 72.2l-26 31.6l-28 31.8l-24 24.6l-14 12.9l-12 10l-14 10.3l-12 7.6l-12 6.3l-12 4.9l-10 2.8l-10 1.5l-10 0.3l-12-0.9l-12-2.3l-10-3.1l-10-4.1l-12-6.1l-12-7.2l-14-9.7l-24-19.2l-26-23.5l-24-23.3l-62-62.1l-34-32.3z" fill="#818181"/>
<path d="M904 454.5l2-4.5l2-2.9l4-4.5l6-5.1l8-5.4l10-5.5l12-5.6l14-5.5l16-5.4l26-7.1l36-7.1l44-6.6l46-5.2l54-4.2l52-2.2l50-0.2l44 1.9l18 1.6l14 1.8l14 2.7l12 3.1l10 3.4l8 3.8l6 4.2l2 2.1l2 3.1l0 25.4l-26 31.7l-56 69.8l-24 28.9l-28 31.7l-24 24.3l-14 12.7l-12 9.8l-12 8.8l-12 7.6l-12 6.3l-12 4.9l-10 2.8l-10 1.5l-10 0.3l-12-0.9l-12-2.3l-10-3.1l-10-4.1l-12-6.1l-12-7.2l-14-9.7l-24-19.2l-26-23.5l-24-23.3l-62-62.1l-32-30.5z" fill="#838383"/>
<path d="M908 455.1l4-6.1l6-5.9l8-5.9l8-4.8l12-5.9l12-5.1l14-5.1l16-5l14-3.7l14-3.1l40-7.2l44-6l46-4.7l54-3.6l52-1.6l48 0.5l40 2.4l16 1.9l12 2.1l14 3.2l12 3.9l8 3.6l6 3.9l4 4.3l2 4.8l0 21l-80 99.1l-24 28.9l-28 31.7l-24 24.3l-14 12.7l-12 9.8l-12 8.8l-12 7.6l-12 6.3l-12 4.9l-10 2.8l-10 1.5l-10 0.3l-12-0.9l-12-2.3l-10-3.1l-10-4.1l-12-6.1l-12-7.2l-14-9.7l-24-19.2l-26-23.5l-24-23.3l-60-60.1l-30-28.8z" fill="#858585"/>
<path d="M910 461.2l2-4.8l4-5.4l6-5.6l10-6.9l10-5.5l12-5.5l14-5.5l14-4.7l26-7l36-7.1l42-6.2l44-5l52-4.1l52-2.2l48-0.3l22 0.7l22 1.2l18 1.6l14 1.9l14 2.8l12 3.2l10 3.6l8 4.1l4 3l2 2.1l2 3l0 25.2l-74 91.8l-26 31.4l-28 31.7l-24 24.3l-14 12.7l-12 9.8l-12 8.8l-12 7.6l-12 6.3l-12 4.9l-10 2.8l-10 1.5l-10 0.3l-12-0.9l-12-2.3l-10-3.1l-10-4.1l-12-6.1l-12-7.2l-14-9.7l-24-19.2l-26-23.5l-24-23.3l-60-60.1l-28-26.9z" fill="#878787"/>
<path d="M914 461.5l4-6.2l6-5.9l8-5.8l8-4.8l12-5.9l12-5l14-5l14-4.4l14-3.7l14-3.1l38-6.8l42-5.7l46-4.8l52-3.5l50-1.6l48 0.5l22 1l18 1.4l16 1.9l12 2.2l14 3.3l10 3.3l8 3.6l6 3.9l4 4.2l2 4.7l0 20.9l-72 89.4l-26 31.4l-28 31.7l-24 24.3l-14 12.7l-12 9.8l-12 8.8l-12 7.6l-12 6.3l-12 4.9l-10 2.8l-10 1.5l-10 0.3l-12-0.9l-12-2.3l-10-3.1l-10-4.1l-12-6.1l-12-7.2l-14-9.7l-24-19.2l-26-23.5l-24-23.3l-58-58.2l-26-25.1z" fill="#898989"/>
<path d="M916 467.7l2-5l4-5.4l6-5.6l8-5.6l10-5.7l12-5.6l12-4.8l14-4.8l26-7.2l34-6.8l42-6.4l44-5l52-4.1l50-2.1l48-0.2l42 1.8l18 1.6l14 1.9l12 2.4l12 3.2l10 3.6l8 4.1l4 2.9l4 5l0 25.2l-68 84.5l-28 33.8l-28 31.4l-24 24.1l-14 12.5l-12 9.7l-12 8.6l-12 7.3l-12 6.1l-10 4l-10 2.8l-10 1.5l-10 0.3l-12-0.9l-10-1.8l-10-2.9l-10-3.9l-12-5.9l-12-7l-14-9.5l-24-19l-26-23.3l-22-21.2l-58-58.2l-28-27.2z" fill="#8b8b8b"/>
<path d="M920 467.8l4-6.3l4-4.1l8-6.2l8-4.9l12-6.1l12-5l14-5.1l14-4.3l26-6.4l38-6.9l42-5.7l44-4.5l50-3.4l50-1.6l46 0.4l38 2.2l16 1.9l12 2l14 3.4l10 3.2l8 3.5l6 3.9l4 4.1l2 4.4l0 21.2l-66 82.1l-28 33.8l-28 31.4l-24 24.1l-14 12.5l-12 9.7l-12 8.6l-12 7.3l-12 6.1l-10 4l-10 2.8l-10 1.5l-10 0.3l-12-0.9l-10-1.8l-10-2.9l-10-3.9l-12-5.9l-12-7l-14-9.5l-24-19l-26-23.3l-24-23.2l-54-54.2l-26-25.4z" fill="#8d8d8d"/>
<path d="M922 474l2-5.2l4-5.3l6-5.5l8-5.6l10-5.6l10-4.7l12-4.8l14-4.9l26-7.2l32-6.4l40-6.1l44-5l50-4l50-2.2l46-0.2l42 1.8l16 1.4l14 1.8l12 2.4l12 3.1l10 3.5l8 4l4 3l4 4.8l0 25.3l-62 77.2l-28 33.8l-28 31.4l-24 24.1l-14 12.5l-12 9.7l-12 8.6l-12 7.3l-12 6.1l-10 4l-10 2.8l-10 1.5l-10 0.3l-12-0.9l-10-1.8l-10-2.9l-10-3.9l-12-5.9l-12-7l-14-9.5l-24-19l-26-23.3l-24-23.2l-78-77.7z" fill="#8f8f8f"/>
<path d="M926 473.9l4-6.2l4-4.1l8-6.1l8-4.9l10-5l12-5.2l14-5.1l14-4.3l26-6.4l36-6.5l40-5.5l44-4.5l50-3.4l48-1.5l44 0.3l38 2.3l14 1.6l12 2l14 3.3l10 3.2l8 3.4l6 3.8l4 4l2 4.1l0 21.7l-60 74.7l-28 33.8l-28 31.4l-24 24.1l-14 12.5l-12 9.7l-12 8.6l-12 7.3l-12 6.1l-10 4l-10 2.8l-10 1.5l-10 0.3l-12-0.9l-10-1.8l-10-2.9l-10-3.9l-12-5.9l-12-7l-14-9.5l-24-19l-26-23.3l-24-23.2l-74-73.8z" fill="#919191"/>
<path d="M928 480l2-5.1l4-5.3l6-5.4l6-4.3l10-5.7l10-4.8l12-4.9l14-4.9l26-7.2l30-6l40-6.1l42-4.8l48-3.9l48-2.2l46-0.2l40 1.6l16 1.4l14 1.7l12 2.3l12 3.1l10 3.4l8 4l4 2.9l4 4.6l0 25.6l-58 72.3l-28 33.6l-28 31.2l-24 23.9l-12 10.6l-12 9.7l-12 8.6l-12 7.3l-12 6.1l-10 4l-10 2.8l-10 1.5l-10 0.3l-12-0.9l-10-1.8l-10-2.9l-10-3.9l-12-5.9l-12-7l-12-8.1l-12-9l-12-9.7l-28-25l-24-23.2l-72-71.9z" fill="#939393"/>
<path d="M932 479.9l4-6.1l4-4.1l8-6l8-4.8l10-5l12-5l12-4.3l14-4.4l26-6.4l34-6.1l40-5.5l42-4.3l48-3.3l46-1.5l44 0.3l36 2.1l24 3.1l14 3.1l10 2.9l8 3.1l6 3.3l4 3.1l2 2.2l2 3.6l0 22.4l-56 69.8l-28 33.6l-28 31.2l-24 23.9l-12 10.6l-12 9.7l-12 8.6l-12 7.3l-12 6.1l-10 4l-10 2.8l-10 1.5l-10 0.3l-12-0.9l-10-1.8l-10-2.9l-10-3.9l-12-5.9l-12-7l-12-8.1l-12-9l-12-9.7l-26-23.1l-26-25.1l-68-68z" fill="#959595"/>
<path d="M934 485.8l2-4.9l4-5.2l6-5.3l6-4.2l10-5.7l10-4.7l12-4.8l12-4.2l24-6.7l30-6.1l38-5.8l42-4.9l48-3.9l46-2.1l44-0.3l40 1.6l16 1.4l14 1.8l12 2.4l10 2.6l8 2.6l8 3.5l6 3.9l4 4.5l0 25.9l-52 64.9l-28 33.6l-28 31.2l-24 23.9l-12 10.6l-12 9.7l-12 8.6l-12 7.3l-12 6.1l-10 4l-10 2.8l-10 1.5l-10 0.3l-12-0.9l-10-1.8l-10-2.9l-10-3.9l-12-5.9l-12-7l-12-8.1l-12-9l-12-9.7l-26-23.1l-26-25.1l-66-66.1z" fill="#979797"/>
<path d="M938 485.8l4-6l4-3.9l6-4.6l8-5l10-5.1l12-5.1l12-4.4l14-4.3l26-6.3l34-6.1l38-5.2l40-4.1l46-3.2l44-1.5l42 0.2l36 2l24 2.9l14 3l10 2.9l8 3.1l6 3.2l4 3l2 2.1l2 3.3l0 23l-50 62.4l-30 35.9l-28 31l-24 23.6l-12 10.5l-12 9.5l-12 8.4l-10 6l-12 6.1l-10 4l-10 2.8l-10 1.5l-10 0.3l-12-0.9l-10-1.8l-10-2.9l-10-3.9l-12-5.9l-10-5.8l-12-7.9l-12-8.8l-12-9.6l-28-24.8l-28-27.1l-60-60.1z" fill="#999999"/>
<path d="M940 491.5l2-4.6l4-5.1l6-5.3l6-4.1l10-5.6l10-4.6l12-4.7l12-4.1l24-6.6l30-5.9l36-5.4l40-4.6l46-3.7l46-2l42-0.3l38 1.6l28 2.9l12 2.3l10 2.5l8 2.6l8 3.4l6 3.8l4 4.3l0 26.4l-48 59.8l-30 35.8l-26 28.7l-24 23.6l-12 10.5l-12 9.5l-12 8.4l-10 6l-12 6.1l-10 4l-10 2.8l-10 1.5l-10 0.3l-12-0.9l-10-1.8l-10-2.9l-10-3.9l-12-5.9l-10-5.8l-12-7.9l-12-8.8l-12-9.6l-26-22.9l-28-27l-60-60.2z" fill="#9b9b9b"/>
<path d="M944 491.7l4-5.8l4-3.9l6-4.5l8-4.9l10-5l10-4.3l12-4.4l14-4.3l24-5.9l34-6.1l36-5l40-4.1l44-3.1l44-1.5l40 0.2l36 1.9l24 3l12 2.6l10 2.9l8 3l6 3.1l4 2.9l2 1.9l2 3.1l0 23.7l-46 57.3l-30 35.8l-26 28.7l-24 23.6l-12 10.5l-12 9.5l-12 8.4l-10 6l-12 6.1l-10 4l-10 2.8l-10 1.5l-10 0.3l-12-0.9l-10-1.8l-10-2.9l-10-3.9l-12-5.9l-10-5.8l-12-7.9l-12-8.8l-12-9.6l-26-22.9l-28-27l-56-56.2z" fill="#9d9d9d"/>
<path d="M946 497.1l2-4.3l4-5l6-5.1l8-5.3l10-5.3l10-4.4l12-4.5l14-4.5l24-6l34-6.2l38-5.2l40-4.1l46-3.1l44-1.3l42 0.5l34 2.2l14 1.8l10 1.9l10 2.5l10 3.2l6 2.6l6 3.7l4 4l2 4.9l0 19.6l-46 57.3l-30 35.6l-26 28.5l-24 23.3l-12 10.4l-12 9.3l-12 8.2l-10 5.9l-12 5.8l-10 3.8l-8 2.1l-10 1.5l-10 0.3l-12-0.9l-10-1.8l-10-2.9l-10-3.9l-12-5.9l-10-5.8l-12-7.9l-12-8.8l-12-9.6l-26-22.9l-28-27l-54-54.2z" fill="#9f9f9f"/>
<path d="M950 497.5l4-5.6l4-3.8l6-4.5l8-4.7l10-5l10-4.1l24-8.1l24-5.8l32-5.7l36-5l38-3.9l42-3l42-1.5l40 0.1l34 1.8l24 2.9l12 2.5l10 2.8l8 2.9l6 3l4 2.8l4 4.7l0 24.4l-44 54.7l-28 33.2l-26 28.5l-24 23.3l-12 10.4l-12 9.3l-12 8.2l-10 5.9l-12 5.8l-10 3.8l-8 2.1l-10 1.5l-10 0.3l-10-0.6l-10-1.6l-10-2.7l-10-3.7l-12-5.7l-10-5.7l-12-7.7l-12-8.7l-12-9.5l-26-22.7l-28-26.8l-52-52.2z" fill="#a1a1a1"/>
<path d="M952 502.7l2-4l4-4.8l6-5.1l8-5.2l10-5.1l10-4.4l24-8.2l24-6l32-5.8l36-5l38-3.9l44-3.1l42-1.4l40 0.3l34 2l22 2.9l12 2.7l10 3l8 3.2l6 3.6l4 3.8l2 3.9l0 21.1l-42 52.2l-30 35.5l-26 28.3l-12 11.9l-12 11.1l-12 10.2l-10 7.7l-12 8.2l-10 5.9l-12 5.8l-10 3.8l-8 2.1l-10 1.5l-10 0.3l-10-0.6l-10-1.6l-10-2.7l-10-3.7l-12-5.7l-10-5.7l-12-7.7l-12-8.7l-12-9.5l-26-22.7l-28-26.8l-50-50.2z" fill="#a3a3a3"/>
<path d="M956 503.3l4-5.4l4-3.7l6-4.4l8-4.7l18-8.1l24-8.1l22-5.4l32-5.8l34-4.7l38-3.9l42-3l40-1.4l38 0.1l34 1.7l24 3l20 4.8l8 2.8l6 3l4 2.7l4 4.3l0 25.1l-40 49.7l-28 33l-26 28.3l-12 11.9l-12 11.1l-12 10.2l-10 7.7l-12 8.2l-10 5.9l-12 5.8l-10 3.8l-8 2.1l-10 1.5l-10 0.3l-10-0.6l-10-1.6l-10-2.7l-10-3.7l-12-5.7l-10-5.7l-12-7.7l-22-16.5l-26-22.6l-28-26.7l-48-48.1z" fill="#a5a5a5"/>
<path d="M958 508.4l2-3.8l4-4.7l6-5l8-5l8-4.2l10-4.3l12-4.5l12-3.8l22-5.6l32-5.8l34-4.8l38-3.9l42-3l42-1.4l38 0.2l32 1.8l22 2.8l12 2.6l10 2.9l8 3.2l6 3.5l4 3.6l2 3.3l0 22.2l-40 49.6l-28 32.9l-26 28l-22 21l-12 10.2l-10 7.7l-12 8.2l-10 5.9l-12 5.8l-10 3.8l-8 2.1l-10 1.5l-10 0.3l-10-0.6l-10-1.6l-10-2.7l-10-3.7l-10-4.7l-10-5.5l-12-7.5l-12-8.6l-12-9.3l-26-22.6l-28-26.7l-46-46.1z" fill="#a7a7a7"/>
<path d="M962 509.1l4-5.2l4-3.6l6-4.3l8-4.6l18-8l22-7.3l22-5.4l30-5.4l34-4.7l36-3.7l40-2.9l40-1.4l36 0l32 1.6l24 2.8l20 4.7l8 2.8l6 2.8l4 2.6l4 4.1l0 25.7l-38 47l-28 32.8l-26 27.7l-22 20.8l-12 10l-10 7.5l-12 8l-10 5.7l-10 4.8l-10 3.8l-8 2.1l-10 1.5l-10 0.3l-10-0.6l-10-1.6l-10-2.7l-10-3.7l-10-4.7l-10-5.5l-12-7.5l-22-16.3l-26-22.3l-28-26.6l-44-44.1z" fill="#a9a9a9"/>
<path d="M964 514l2-3.6l4-4.5l6-4.8l8-5l8-4l10-4.3l22-7.6l22-5.5l30-5.4l34-4.8l36-3.8l40-2.8l40-1.4l38 0.2l32 1.8l22 2.8l10 2.2l10 2.8l8 3.1l6 3.4l4 3.4l2 3l0 23l-36 44.5l-28 32.8l-26 27.7l-22 20.8l-12 10l-10 7.5l-12 8l-10 5.7l-10 4.8l-10 3.8l-8 2.1l-10 1.5l-10 0.3l-10-0.6l-10-1.6l-10-2.7l-10-3.7l-10-4.7l-10-5.5l-12-7.5l-22-16.3l-26-22.3l-28-26.6l-42-42.1z" fill="#ababab"/>
<path d="M966 520.5l2-5.6l2-2.8l6-5.7l6-4.2l8-4.5l10-4.7l22-8l22-5.8l30-5.7l34-4.8l38-4.1l42-2.9l40-1.3l38 0.3l32 2.1l12 1.4l10 1.9l10 2.4l10 3.3l6 2.8l6 4.1l2 2.3l2 4.8l0 18.9l-36 44.4l-26 30.4l-26 27.7l-22 20.8l-12 10l-10 7.5l-12 8l-10 5.7l-10 4.8l-10 3.8l-8 2.1l-10 1.5l-8 0.3l-10-0.4l-10-1.4l-10-2.5l-10-3.5l-10-4.5l-10-5.3l-12-7.4l-22-16l-26-22.1l-28-26.4l-42-42z" fill="#adadad"/>
<path d="M970 519.7l4-5.8l4-3.7l6-4.3l6-3.5l8-4l10-4.2l20-6.8l20-5l30-5.6l32-4.5l36-3.8l40-2.8l38-1.3l36 0.1l30 1.6l22 2.7l10 2.1l10 2.8l8 3l6 3.3l4 3.3l2 2.7l0 23.7l-34 41.8l-28 32.4l-24 25.3l-22 20.5l-12 9.8l-10 7.4l-10 6.6l-10 5.7l-10 4.8l-10 3.8l-8 2.1l-10 1.5l-8 0.3l-10-0.4l-10-1.4l-10-2.5l-10-3.5l-10-4.5l-10-5.3l-12-7.4l-22-16l-26-22.1l-28-26.4l-38-38z" fill="#afafaf"/>
<path d="M972 525.4l2-4.7l2-2.7l6-5.5l6-4.1l8-4.5l10-4.5l22-7.8l20-5.2l30-5.6l32-4.6l36-3.8l40-2.8l40-1.3l36 0.3l30 1.8l20 2.7l10 2.3l10 3l6 2.5l6 3.4l4 3.6l2 3.8l0 20.5l-34 41.7l-26 30l-24 25.3l-22 20.5l-12 9.8l-10 7.4l-10 6.6l-10 5.7l-10 4.8l-10 3.8l-8 2.1l-10 1.5l-8 0.3l-10-0.4l-10-1.4l-10-2.5l-10-3.5l-10-4.5l-10-5.3l-10-6.1l-22-15.8l-26-21.8l-28-26.3l-38-37.9z" fill="#b1b1b1"/>
<path d="M976 525.4l4-5.5l4-3.6l6-4.2l6-3.5l8-3.9l10-4.1l20-6.6l20-4.9l30-5.3l32-4.4l32-3.3l38-2.6l36-1.2l34 0.1l30 1.6l20 2.3l10 2.1l10 2.7l6 2.1l6 2.8l4 2.6l4 4.2l0 24.4l-32 39.1l-26 29.8l-24 25.1l-22 20.2l-12 9.7l-10 7.2l-10 6.4l-10 5.6l-10 4.5l-8 3l-8 2.1l-10 1.5l-8 0.3l-10-0.4l-10-1.4l-10-2.5l-10-3.5l-10-4.5l-10-5.3l-10-6.1l-22-15.8l-24-20l-28-26.1l-36-35.8z" fill="#b3b3b3"/>
<path d="M978 530.8l2-4.2l4-4.7l4-3.3l6-4l8-4.4l8-3.6l10-3.9l12-3.9l20-5.2l28-5.2l32-4.6l34-3.6l38-2.7l38-1.3l34 0.2l30 1.6l20 2.6l10 2.3l10 2.9l6 2.4l6 3.3l4 3.5l2 3.2l0 21.5l-32 39l-26 29.6l-22 22.9l-22 20.2l-12 9.7l-10 7.2l-10 6.4l-10 5.6l-10 4.5l-8 3l-8 2.1l-10 1.5l-8 0.3l-10-0.4l-10-1.4l-10-2.5l-10-3.5l-10-4.5l-10-5.3l-10-6.1l-22-15.8l-24-20l-26-24.2l-36-35.7z" fill="#b5b5b5"/>
<path d="M982 531.2l2-3l4-4.1l6-4.5l6-3.6l8-4l10-4.2l20-6.6l20-4.9l28-4.9l30-4.2l32-3.3l36-2.5l36-1.3l34 0.2l28 1.5l20 2.4l18 4.3l12 4.8l4 2.5l4 4l0 24.9l-30 36.3l-26 29.5l-22 22.7l-22 19.9l-10 8l-10 7.2l-10 6.4l-10 5.6l-10 4.5l-8 3l-8 2.1l-10 1.5l-8 0.3l-10-0.4l-10-1.4l-10-2.5l-8-2.7l-10-4.3l-10-5.2l-10-5.9l-10-6.7l-12-8.8l-24-19.9l-26-24l-34-33.6z" fill="#b7b7b7"/>
<path d="M984 536.4l2-3.9l4-4.5l4-3.3l6-3.9l8-4.2l8-3.6l20-7.1l20-5.1l26-4.8l30-4.3l34-3.7l38-2.7l36-1.2l34 0.2l28 1.6l18 2.3l10 2.1l10 2.9l6 2.3l6 3.2l4 3.3l2 3l0 22.1l-30 36.3l-24 27.1l-22 22.7l-22 19.9l-10 8l-10 7.2l-10 6.4l-10 5.6l-10 4.5l-8 3l-8 2.1l-10 1.5l-8 0.3l-10-0.4l-10-1.4l-10-2.5l-8-2.7l-10-4.3l-10-5.2l-10-5.9l-20-14l-24-19.6l-26-23.9l-34-33.5z" fill="#b9b9b9"/>
<path d="M988 537l2-2.8l4-4l6-4.4l6-3.6l16-7.2l20-6.6l20-4.8l26-4.7l30-4.1l30-3.1l34-2.4l34-1.2l32 0l28 1.4l20 2.3l18 4.1l12 4.7l4 2.4l4 3.8l0 25.3l-30 35.9l-24 26.8l-22 22.2l-20 17.8l-10 7.8l-10 7.1l-10 6.2l-10 5.4l-10 4.3l-8 2.8l-8 1.9l-8 1.1l-8 0.3l-10-0.4l-10-1.4l-8-1.9l-8-2.6l-10-4.1l-10-5l-10-5.8l-20-13.7l-24-19.4l-26-23.7l-32-31.4z" fill="#bbbbbb"/>
<path d="M990 542.1l2-3.7l4-4.3l4-3.2l6-3.8l8-4.2l8-3.5l20-6.9l20-4.9l26-4.7l30-4.1l30-3.2l36-2.5l34-1.1l32 0.2l28 1.5l18 2.4l18 4.5l6 2.2l6 3.2l4 3.2l2 2.7l0 22.6l-28 33.5l-24 26.8l-22 22.2l-20 17.8l-10 7.8l-10 7.1l-10 6.2l-10 5.4l-10 4.3l-8 2.8l-8 1.9l-8 1.1l-8 0.3l-10-0.4l-10-1.4l-8-1.9l-8-2.6l-10-4.1l-10-5l-10-5.8l-20-13.7l-24-19.4l-26-23.7l-30-29.4z" fill="#bdbdbd"/>
<path d="M994 543l4-4.9l4-3.4l6-3.9l6-3.3l16-6.8l20-6.2l22-4.9l28-4.6l30-3.7l32-2.9l34-1.9l34-0.7l30 0.8l24 1.9l18 3.3l8 2.2l8 3l4 2l4 2.8l2 2.1l2 4.3l0 18.8l-28 33.3l-24 26.6l-22 22l-20 17.5l-10 7.7l-10 6.9l-10 6l-8 4.3l-10 4.3l-8 2.8l-8 1.9l-8 1.1l-8 0.3l-10-0.4l-10-1.4l-8-1.9l-8-2.6l-10-4.1l-18-9.6l-20-13.4l-22-17.5l-26-23.3l-30-29.2z" fill="#bfbfbf"/>
<path d="M996 547.9l2-3.4l4-4.3l4-3.1l6-3.8l8-4l8-3.4l18-6.2l18-4.5l26-4.7l28-3.9l30-3.1l34-2.5l32-1.1l32 0.1l26 1.4l18 2.2l18 4.4l6 2.2l6 3.1l4 3l2 2.6l0 23l-26 30.7l-24 26.4l-20 19.9l-20 17.5l-10 7.7l-10 6.9l-10 6l-8 4.3l-10 4.3l-8 2.8l-8 1.9l-8 1.1l-8 0.3l-10-0.4l-10-1.4l-8-1.9l-8-2.6l-10-4.1l-18-9.6l-20-13.4l-22-17.5l-24-21.4l-30-29.1z" fill="#c1c1c1"/>
<path d="M1000 548.9l2-2.6l4-3.8l6-4.3l6-3.3l16-6.9l20-6.3l20-4.4l28-4.7l30-3.7l30-2.7l32-1.8l32-0.7l28 0.6l24 1.9l18 3.1l14 4.2l6 2.8l4 2.7l2 2l2 3.9l0 19.4l-26 30.6l-24 26.2l-20 19.7l-20 17.2l-10 7.5l-10 6.8l-10 5.9l-8 4l-8 3.4l-8 2.8l-8 1.9l-8 1.1l-8 0.3l-8-0.2l-10-1.3l-8-1.7l-8-2.4l-10-3.9l-18-9.3l-20-13.1l-22-17.3l-24-21.2l-28-27z" fill="#c3c3c3"/>
<path d="M1002 553.9l2-3.4l4-4.1l10-6.8l16-7.3l18-5.9l18-4.3l24-4.3l28-3.8l28-2.9l32-2.2l32-1.1l28 0.1l26 1.4l18 2.3l16 3.9l6 2.1l6 3l4 3l2 2.4l0 23.1l-26 30.4l-22 23.7l-20 19.4l-20 16.9l-18 12.8l-10 5.9l-8 4l-8 3.4l-8 2.8l-8 1.9l-8 1.1l-8 0.3l-8-0.2l-10-1.3l-8-1.7l-8-2.4l-10-3.9l-18-9.3l-20-13.1l-20-15.6l-24-21.1l-28-26.8z" fill="#c5c5c5"/>
<path d="M1006 555l2-2.6l4-3.7l6-4.2l6-3.3l16-6.7l18-5.6l20-4.4l26-4.3l28-3.4l30-2.7l32-1.8l30-0.6l28 0.6l22 1.8l16 2.7l14 4.2l6 2.7l4 2.7l2 1.9l2 3.6l0 19.6l-24 28l-22 23.7l-20 19.4l-20 16.9l-18 12.8l-10 5.9l-8 4l-8 3.4l-8 2.8l-8 1.9l-8 1.1l-8 0.3l-8-0.2l-10-1.3l-8-1.7l-8-2.4l-8-3l-8-3.7l-10-5.3l-20-12.9l-20-15.4l-24-20.9l-26-24.7z" fill="#c7c7c7"/>
<path d="M1008 559.9l2-3.2l4-4.1l10-6.6l14-6.4l18-6l16-3.9l24-4.3l26-3.6l28-2.9l32-2.2l30-1l28 0.2l24 1.3l18 2.3l16 4.1l10 4.4l4 2.9l2 2.4l0 23l-24 27.6l-22 23.3l-20 19l-18 14.9l-18 12.4l-16 8.7l-8 3.4l-8 2.8l-8 1.9l-8 1.1l-8 0.3l-8-0.2l-10-1.3l-8-1.7l-8-2.4l-8-3l-8-3.7l-10-5.3l-20-12.9l-20-15.4l-22-19l-26-24.6z" fill="#c9c9c9"/>
<path d="M1012 561.2l2-2.6l4-3.7l6-4l6-3.3l14-5.9l18-5.6l20-4.3l24-3.9l28-3.5l28-2.5l30-1.7l28-0.6l26 0.5l22 1.7l16 2.6l14 4l6 2.7l4 2.6l2 1.9l2 3.6l0 19.5l-24 27.4l-20 21.1l-20 19l-18 14.9l-18 12.4l-16 8.7l-8 3.4l-8 2.8l-8 1.9l-8 1.1l-8 0.3l-8-0.2l-10-1.3l-8-1.7l-8-2.4l-8-3l-16-7.9l-18-11.2l-20-14.9l-22-18.7l-26-24.3z" fill="#cbcbcb"/>
<path d="M1014 566.2l2-3.3l2-2.2l4-3.4l6-3.8l14-6.6l18-6l16-3.9l22-4l26-3.5l26-2.7l30-2.1l30-1l26 0.1l24 1.3l16 2.1l16 3.9l10 4.3l4 2.9l2 2.4l0 22.7l-22 24.9l-20 20.9l-20 18.8l-18 14.6l-18 12.1l-16 8.4l-8 3.3l-8 2.6l-6 1.3l-8 1.1l-8 0.3l-8-0.2l-10-1.3l-8-1.7l-8-2.4l-8-3l-16-7.9l-18-11.2l-20-14.9l-22-18.7l-24-22.4z" fill="#cdcdcd"/>
<path d="M1018 567.4l2-2.5l4-3.7l10-6.1l14-6.1l18-5.6l20-4.3l24-3.9l26-3.1l28-2.5l28-1.5l28-0.5l26 0.6l20 1.7l16 3l12 3.8l4 1.9l4 2.6l2 1.9l2 3.8l0 18.8l-22 24.8l-20 20.7l-18 16.8l-18 14.6l-18 12.1l-16 8.4l-8 3.3l-8 2.6l-6 1.3l-8 1.1l-8 0.3l-8-0.2l-16-2.5l-8-2.2l-8-2.9l-16-7.6l-18-10.9l-20-14.7l-20-16.8l-24-22.1z" fill="#cfcfcf"/>
<path d="M1020 572.6l2-3.4l2-2.2l4-3.3l6-3.8l14-6.4l16-5.4l16-3.8l22-3.9l24-3.3l26-2.6l28-1.9l28-1l26 0.2l22 1.3l14 1.7l16 3.9l10 4.2l4 2.9l2 2.4l0 22.1l-20 22.4l-20 20.5l-18 16.5l-18 14.4l-16 10.6l-16 8.4l-8 3.3l-8 2.6l-6 1.3l-8 1.1l-8 0.3l-8-0.2l-16-2.5l-8-2.2l-8-2.9l-16-7.6l-18-10.9l-18-13.2l-20-16.5l-24-22z" fill="#d1d1d1"/>
<path d="M1024 573.8l2-2.6l4-3.6l10-6l12-5.2l16-5.2l16-3.7l20-3.4l24-3.3l24-2.4l28-1.9l26-0.9l24 0.1l22 1.2l16 1.9l14 3.4l10 3.9l4 2.6l2 2l0 24.2l-20 22l-20 20.1l-18 16.1l-16 12.4l-16 10.4l-16 8.1l-14 5l-6 1.3l-8 1.1l-8 0.3l-8-0.2l-16-2.5l-14-4.3l-16-7.3l-18-10.7l-18-12.9l-20-16.4l-22-19.9z" fill="#d3d3d3"/>
<path d="M1026 579.3l2-3.7l2-2.2l8-5.9l12-5.9l16-5.6l14-3.6l22-4l24-3.4l26-2.6l28-1.9l26-0.9l24 0.2l22 1.2l14 1.8l16 4.2l6 2.4l4 2.4l2 1.6l2 2.6l0 21.2l-20 21.8l-18 18l-18 16.1l-16 12.4l-16 10.4l-16 8.1l-14 5l-6 1.3l-8 1.1l-8 0.3l-8-0.2l-16-2.5l-14-4.3l-16-7.3l-16-9.4l-18-12.7l-20-16.2l-22-19.7z" fill="#d5d5d5"/>
<path d="M1030 580.4l2-2.7l4-3.6l8-5l12-5.3l16-5.2l16-3.7l20-3.4l22-3l24-2.4l26-1.7l26-0.8l24 0.2l20 1.2l14 1.9l14 3.5l8 3.4l4 2.6l2 2l0 23.3l-18 19.4l-18 17.8l-18 15.9l-16 12.1l-16 10.1l-14 7l-14 5l-6 1.3l-8 1.1l-14 0.2l-16-2.1l-14-4.1l-16-7l-16-9.1l-18-12.5l-20-16l-20-17.7z" fill="#d7d7d7"/>
<path d="M1032 586.9l2-4.7l4-4.1l4-2.8l12-6.2l14-5.1l14-3.8l20-3.8l24-3.4l24-2.6l28-1.9l26-0.9l24 0.2l20 1.2l14 2l14 3.6l6 2.5l4 2.4l2 1.7l2 3l0 19.7l-18 19.3l-18 17.6l-16 14l-16 12.1l-16 10.1l-14 7l-14 5l-6 1.3l-8 1.1l-14 0.2l-16-2.1l-14-4.1l-16-7l-16-9.1l-18-12.5l-18-14.3l-20-17.6z" fill="#d9d9d9"/>
<path d="M1036 587.3l4-5l4-3.1l6-3.5l12-5.3l14-4.5l14-3.3l20-3.4l22-3l22-2.1l26-1.7l24-0.8l22 0.2l20 1.2l12 1.6l14 3.5l8 3.4l4 2.7l2 2.2l0 21.9l-18 18.9l-16 15.4l-16 13.8l-16 11.9l-16 9.9l-14 6.6l-14 4.7l-12 1.9l-14 0.2l-16-2.1l-14-4.1l-14-6l-16-8.9l-16-10.7l-18-14l-20-17.2z" fill="#dbdbdb"/>
<path d="M1040 589l2-2.4l4-3.4l8-4.7l12-5.1l14-4.3l14-3.1l20-3.4l20-2.6l22-2.1l24-1.6l22-0.6l22 0.2l18 1l12 1.5l14 3.3l8 3.1l4 2.5l2 1.9l0 23.5l-18 18.5l-16 15l-16 13.3l-14 10.2l-14 8.5l-14 6.6l-14 4.7l-12 1.9l-14 0.2l-16-2.1l-12-3.4l-14-5.7l-16-8.7l-16-10.5l-18-13.7l-18-15.3z" fill="#dddddd"/>
<path d="M1042 594.8l2-3.7l2-2.1l8-5.6l10-4.7l14-4.8l14-3.4l18-3.3l22-3l22-2.2l24-1.6l24-0.7l22 0.3l18 1.1l14 2.2l12 3.3l8 3.9l2 1.7l2 2.8l0 19.8l-16 16.4l-16 15l-16 13.3l-14 10.2l-14 8.5l-14 6.6l-14 4.7l-12 1.9l-14 0.2l-16-2.1l-12-3.4l-14-5.7l-14-7.5l-16-10.3l-18-13.5l-18-15.2z" fill="#dfdfdf"/>
<path d="M1046 596.2l4-4.7l8-5.3l10-4.5l14-4.7l14-3.2l18-3.1l20-2.7l22-2.1l24-1.6l22-0.6l20 0.3l18 1.2l12 1.8l12 3.2l8 3.7l4 3.6l0 21.5l-16 16.1l-16 14.6l-14 11.4l-14 9.9l-14 8.2l-14 6.4l-12 3.9l-12 1.9l-14 0.2l-14-1.7l-12-3.1l-14-5.5l-14-7.2l-16-10.1l-16-11.8l-18-14.8z" fill="#e1e1e1"/>
<path d="M1050 598.2l4-4.1l8-5l10-4.4l14-4.5l12-2.7l18-3.1l20-2.6l20-1.9l22-1.5l22-0.6l20 0.2l16 1l12 1.7l12 3.1l8 3.4l4 3.3l0 22.7l-16 15.7l-14 12.5l-14 11.2l-14 9.7l-14 8l-12 5.3l-12 3.9l-12 1.9l-12 0.3l-14-1.5l-12-2.8l-14-5.2l-14-7l-16-9.8l-16-11.6l-16-13z" fill="#e3e3e3"/>
<path d="M1052 604.6l2-4.1l2-2.1l6-4.3l10-4.8l12-4.2l12-3l18-3.3l20-2.7l22-2.2l24-1.5l22-0.5l20 0.4l16 1.3l12 2.2l10 3l6 3.2l2 1.6l2 3.5l0 18.1l-16 15.6l-14 12.3l-14 11l-14 9.4l-14 7.8l-12 5.1l-10 3.1l-12 1.9l-12 0.3l-14-1.5l-12-2.8l-14-5.2l-14-7l-14-8.5l-16-11.4l-16-12.8z" fill="#e5e5e5"/>
<path d="M1056 606l2-3l2-2l8-5.1l10-4.3l12-3.9l12-2.7l18-3l18-2.4l20-1.9l22-1.3l20-0.4l18 0.3l16 1.1l12 2.1l10 3l6 2.9l2 1.6l2 2.6l0 19.6l-14 13.4l-14 12.2l-14 10.7l-12 8l-14 7.8l-12 5.1l-10 3.1l-12 1.9l-12 0.3l-14-1.5l-12-2.8l-12-4.3l-14-6.8l-14-8.3l-14-9.7l-16-12.5z" fill="#e7e7e7"/>
<path d="M1060 608.1l4-4.3l6-3.9l10-4.5l12-3.9l12-2.7l16-2.8l18-2.3l20-1.9l20-1.2l20-0.5l18 0.3l14 1l12 1.9l10 2.8l6 2.8l4 3.7l0 20.6l-14 13l-12 10.2l-14 10.5l-12 7.8l-12 6.6l-12 5.1l-10 3.1l-12 1.9l-12 0.3l-12-1.2l-12-2.5l-12-4.1l-12-5.5l-14-7.9l-14-9.3l-16-12.1z" fill="#e9e9e9"/>
<path d="M1064 610.6l4-4l8-4.7l10-4.1l10-3l12-2.6l16-2.6l18-2.3l18-1.6l20-1.2l18-0.3l16 0.3l14 1l10 1.6l10 2.8l6 2.7l4 3.3l0 21.1l-14 12.7l-12 9.8l-12 8.8l-12 7.6l-12 6.3l-12 4.9l-10 2.8l-10 1.5l-12 0.3l-12-1.2l-10-2l-12-3.8l-12-5.3l-14-7.7l-14-9.1l-14-10.4z" fill="#ebebeb"/>
<path d="M1068 613.2l4-3.7l8-4.6l10-3.9l10-2.9l12-2.5l16-2.5l32-3.3l18-1.1l18-0.4l16 0.3l12 0.9l10 1.5l10 2.6l6 2.6l4 3.2l0 21.4l-12 10.6l-12 9.7l-12 8.6l-12 7.3l-12 6.1l-10 4l-10 2.8l-10 1.5l-12 0.3l-12-1.2l-10-2l-12-3.8l-12-5.3l-12-6.5l-12-7.5l-14-10.1z" fill="#ededed"/>
<path d="M1072 616l4-3.6l8-4.4l8-3.1l10-2.9l12-2.5l14-2.3l32-3.4l34-1.3l16 0.3l12 0.9l8 1.2l10 2.6l6 2.5l4 3.1l0 21.3l-12 10.4l-12 9.3l-12 8.2l-10 5.9l-12 5.8l-10 3.8l-8 2.1l-10 1.5l-10 0.3l-12-0.9l-12-2.3l-10-3.1l-10-4.1l-12-6.1l-12-7.2l-14-9.7z" fill="#efefef"/>
<path d="M1076 618.9l4-3.4l8-4.3l8-3l10-2.8l26-4.6l30-3l32-1.1l14 0.3l12 0.9l8 1.3l8 2.1l6 2.5l4 3.1l0 21.1l-12 10l-10 7.5l-12 8l-10 5.7l-12 5.6l-10 3.6l-8 1.9l-10 1.2l-10 0.2l-10-0.9l-10-1.8l-10-2.9l-10-3.9l-12-5.9l-12-7l-12-8.1z" fill="#f1f1f1"/>
<path d="M1080 622l4-3.4l6-3.3l8-3.1l10-2.9l24-4.3l30-3l30-1.1l12 0.2l12 0.9l8 1.2l8 2.1l6 2.4l4 3.1l0 20.6l-12 9.7l-10 7.2l-10 6.4l-10 5.6l-10 4.5l-10 3.6l-8 1.9l-10 1.2l-10 0.2l-10-0.9l-10-1.8l-10-2.9l-10-3.9l-10-4.8l-10-5.7l-12-7.7z" fill="#f3f3f3"/>
<path d="M1084 625.1l4-3.3l6-3.2l8-3.1l8-2.3l24-4.3l30-2.9l28-0.9l22 1.2l8 1.4l8 2.3l6 3l2 2.1l0 19.7l-10 7.8l-10 7.1l-10 6.2l-10 5.4l-10 4.3l-8 2.8l-8 1.9l-10 1.2l-10 0.2l-10-0.9l-10-1.8l-8-2.2l-10-3.7l-10-4.7l-10-5.5l-10-6.2z" fill="#f5f5f5"/>
<path d="M1088 628.5l4-3.4l6-3.2l8-3l8-2.2l24-4.1l28-2.5l26-0.7l20 1.2l8 1.6l8 2.7l4 2.3l2 2.6l0 18.2l-10 7.5l-10 6.8l-10 5.9l-8 4l-10 4.2l-8 2.6l-8 1.6l-8 0.9l-8 0.2l-10-0.6l-10-1.6l-8-2.1l-8-2.7l-10-4.3l-10-5.2l-10-5.9z" fill="#f7f7f7"/>
<path d="M1092 632.1l4-3.6l4-2.3l6-2.5l8-2.5l20-3.7l24-2.7l26-1.1l22 0.9l6 0.9l8 2l4 1.6l4 2.6l0 20.9l-18 12.1l-10 5.6l-8 3.7l-8 3.1l-8 2.4l-14 2l-8 0.2l-8-0.4l-10-1.4l-8-1.9l-8-2.6l-10-4.1l-18-9.6z" fill="#f9f9f9"/>
<path d="M1096 636.4l2-2.8l4-2.8l6-2.8l8-2.7l18-3.5l24-2.7l26-1l20 1l8 1.5l6 1.9l4 2.1l2 2.1l0 18.8l-16 10.4l-16 8.1l-8 3.1l-8 2.4l-14 2l-8 0.2l-8-0.4l-8-1.1l-8-1.7l-8-2.4l-8-3l-8-3.7l-10-5.3z" fill="#fbfbfb"/>
<path d="M1102 637.6l4-3.1l4-2.1l12-3.9l18-3.2l20-2l20-0.8l18 0.7l6 0.9l6 1.5l4 1.4l4 2.6l0 20.1l-16 9.5l-14 6.4l-12 3.9l-14 2l-14 0l-16-2.5l-14-4.3l-16-7.3z" fill="#fdfdfd"/>
<path d="M1108 639.8l4-2.6l4-1.9l10-3l16-2.8l20-1.9l18-0.6l14 0.6l6 0.9l6 1.6l4 1.7l2 1.3l0 20.4l-14 7.8l-12 5.1l-12 3.5l-12 1.6l-14 0l-14-2l-12-3.4l-14-5.7z" fill="#ffffff"/>
</g></g>
<g clip-path="url(#cB)"><g filter="url(#tb)">
<path d="M742 237H1624V670H742z" fill="#000"/>
<path d="M754 354.1l22 5.6l24 3.3l24 1.1l26-0.8l26-2.4l70-8.4l78-6.1l66-6.3l64-7.3l64-8.4l68-10l64-10.6l60-11.2l52-11l36-8.9l40-11.6l38-12.7l36-13.5l0 434.8l-858 0z" fill="#020202"/>
<path d="M754 354.1l22 5.6l24 3.3l24 1.1l26-0.8l26-2.4l70-8.4l78-6.1l66-6.3l64-7.3l64-8.4l68-10l64-10.6l60-11.2l52-11l36-8.9l40-11.6l38-12.7l36-13.5l0 434.8l-858 0z" fill="#040404"/>
<path d="M754 354.1l22 5.6l24 3.3l24 1.1l26-0.8l26-2.4l70-8.4l78-6.1l66-6.3l64-7.3l64-8.4l68-10l64-10.6l60-11.2l52-11l36-8.9l40-11.6l38-12.7l36-13.5l0 434.8l-858 0z" fill="#060606"/>
<path d="M754 354.1l22 5.6l24 3.3l24 1.1l26-0.8l26-2.4l70-8.4l78-6.1l66-6.3l64-7.3l64-8.4l68-10l64-10.6l60-11.2l52-11l36-8.9l40-11.6l38-12.7l36-13.5l0 434.8l-858 0z" fill="#080808"/>
<path d="M754 354.1l22 5.6l24 3.3l24 1.1l26-0.8l26-2.4l70-8.4l78-6.1l66-6.3l64-7.3l64-8.4l68-10l64-10.6l60-11.2l52-11l36-8.9l40-11.6l38-12.7l36-13.5l0 434.8l-858 0z" fill="#0a0a0a"/>
<path d="M754 354.1l20 5.2l20 3l22 1.7l22 0l32-2.4l78-9.3l72-5.5l60-5.6l2 13.8l70-7.9l70-9.1l72-10.7l70-11.8l64-12.4l52-11.7l2-14.5l34-9.2l32-9.8l32-10.9l32-12.1l0 434.8l-858 0z" fill="#0c0c0c"/>
<path d="M754 354.1l18 4.8l18 3l20 1.8l22 0.4l16-0.6l18-1.5l68-8.3l28-2.6l2 13.9l64-4.7l66-6.2l66-7.4l68-8.8l76-11.4l70-12.1l64-12.8l26-5.9l24-6.2l48-13.8l2-14.6l38-12.7l36-13.5l0 434.8l-858 0z" fill="#0e0e0e"/>
<path d="M754 354.1l18 4.8l18 3l20 1.8l20 0.4l18-0.6l20-1.7l78-9.3l2 13.8l68-4.4l70-6.1l72-7.7l74-9.5l74-11.1l70-12.3l62-12.6l22-5.1l26-6.8l42-12.3l44-14.6l2-14.7l38-14.2l0 434.8l-858 0z" fill="#101010"/>
<path d="M754 354.1l18 4.8l16 2.7l20 2l20 0.6l18-0.6l20-1.6l68-8.3l2 13.9l70-3.9l74-6l76-7.9l78-9.9l74-11.2l68-11.9l60-12.4l46-11.6l28-8.1l26-8.3l28-9.6l30-10.9l2-14.8l16-6.2l0 434.8l-858 0z" fill="#121212"/>
<path d="M754 354.1l16 4.3l16 2.9l18 2l20 0.8l18-0.3l20-1.4l58-7l2 13.8l74-3.5l78-5.9l80-8.1l82-10.3l72-10.8l68-12l58-12.1l46-11.9l30-8.9l30-9.9l30-10.7l36-13.8l2-14.8l4-1.6l0 434.8l-858 0z" fill="#141414"/>
<path d="M754 354.1l16 4.3l14 2.6l18 2.1l18 1l18-0.1l18-1.1l22-2.2l30-3.8l2 13.9l66-2.4l68-4.3l72-6.3l72-8.1l68-9.1l66-10.3l62-11.3l52-11.2l44-11.7l42-13.1l42-15l48-19.1l0 420.8l-858 0z" fill="#161616"/>
<path d="M754 354.1l14 3.8l14 2.8l18 2.3l18 1l16 0.1l18-0.9l20-1.8l26-3.2l2 14l66-1.8l72-4.2l76-6.5l76-8.4l68-9.1l64-10l60-11l50-10.8l44-11.8l44-13.9l44-16l48-19.7l0 420.7l-858 0z" fill="#181818"/>
<path d="M754 354.1l14 3.8l12 2.5l16 2.2l18 1.3l16 0.2l18-0.6l18-1.5l22-2.5l2 13.9l2 0l68-1.4l74-4l78-6.4l78-8.5l66-8.8l64-10l60-11l50-10.8l46-12.5l44-14.2l44-16.5l46-19.4l0 419.8l-856 0z" fill="#1a1a1a"/>
<path d="M754 354.1l12 3.4l12 2.5l16 2.3l16 1.4l16 0.5l16-0.4l16-1.1l20-2l2 13.9l10 0.1l34-0.3l34-0.8l74-3.8l78-6.2l78-8.4l66-8.7l64-10l60-11l50-10.9l46-12.6l24-7.6l22-7.5l44-16.8l44-19.3l0 418.9l-854 0z" fill="#1c1c1c"/>
<path d="M754 354.1l12 3.4l12 2.5l14 2.1l14 1.4l14 0.6l16-0.1l32-2.2l2 13.9l20 0.3l34-0.1l34-0.8l72-3.4l78-6.1l78-8.3l68-8.9l64-10l60-11.1l48-10.5l46-12.8l24-7.6l22-7.6l22-8.2l22-9l22-9.5l20-9.4l0 417l-850 0z" fill="#1e1e1e"/>
<path d="M754 354.1l22 5.6l12 1.9l14 1.5l26 1.1l30-1.5l2 14.1l26 0.6l32 0.1l34-0.6l36-1.2l38-2l76-5.7l80-8.2l68-8.9l64-9.9l60-11l50-11l46-12.8l24-7.7l22-7.7l22-8.4l22-9.1l22-9.8l18-8.8l0 415l-846 0z" fill="#202020"/>
<path d="M754 354.1l22 5.6l22 3.1l24 1.3l24-0.5l2 14l36 1.2l32 0.3l34-0.5l36-1.1l36-1.7l76-5.5l80-8.1l68-8.7l66-10.1l60-11l28-5.9l22-5.2l24-6.4l24-7.1l22-7.2l22-7.8l22-8.5l22-9.3l20-9.2l18-9l0 412.9l-842 0z" fill="#222222"/>
<path d="M754 354.1l20 5.2l18 2.8l20 1.7l22 0.3l2 14.1l46 2.1l32 0.4l32-0.2l36-1l36-1.6l76-5.2l78-7.7l68-8.5l66-10l60-10.9l50-10.9l24-6.4l24-7l22-7.1l22-7.8l22-8.5l22-9.4l20-9.2l18-9.2l0 409.6l-836 0z" fill="#242424"/>
<path d="M754 354.1l14 3.8l14 2.8l18 2.3l18 1l2 14.1l28 2.2l30 1.4l32 0.6l32 0l34-0.7l36-1.5l38-2.1l38-2.8l78-7.4l70-8.7l66-9.9l62-11.1l28-5.9l22-5.1l24-6.4l24-7.1l22-7.2l22-7.9l22-8.6l20-8.6l20-9.5l18-9.4l0 407.3l-832 0z" fill="#262626"/>
<path d="M754 354.1l22 5.6l22 3.1l2 14.2l36 3.8l40 2.4l30 0.8l32 0.1l34-0.5l36-1.3l38-2l38-2.7l78-7.3l70-8.5l66-9.8l62-11l28-5.8l24-5.6l24-6.5l24-7.1l22-7.3l22-8l22-8.7l20-8.8l20-9.8l16-8.7l0 405l-828 0z" fill="#282828"/>
<path d="M756 368.8l14 3.8l16 3.3l22 3.3l22 2.5l24 1.9l24 1.3l28 0.8l28 0.3l60-1.2l66-3.4l70-5.6l70-7.7l62-8.3l60-9.6l54-10.4l24-5.3l18-4.5l44-12.9l22-7.4l20-7.5l20-8.1l20-9l18-9l14-7.8l0 401.4l-820 0z" fill="#2a2a2a"/>
<path d="M760 370.1l14 4.1l14 3l22 3.5l22 2.5l24 2.1l24 1.4l28 0.9l28 0.3l60-1.1l66-3.4l70-5.6l70-7.7l62-8.3l60-9.8l54-10.5l40-9.5l22-6.3l22-6.8l22-7.6l20-7.6l20-8.4l18-8.3l16-8.2l14-8l0 398.9l-812 0z" fill="#2c2c2c"/>
<path d="M764 371.5l14 4.2l14 3.2l20 3.3l22 2.7l24 2.1l24 1.5l28 0.9l28 0.4l60-1l66-3.3l68-5.5l70-7.6l62-8.4l58-9.4l54-10.5l20-4.5l20-5.1l22-6.2l22-6.9l22-7.7l20-7.7l18-7.6l18-8.4l16-8.3l14-8.3l0 396.3l-804 0z" fill="#2e2e2e"/>
<path d="M768 373l14 4.4l14 3.3l20 3.3l20 2.6l24 2.2l24 1.5l26 1l28 0.4l60-0.8l64-3.1l68-5.4l68-7.2l62-8.3l58-9.3l54-10.4l22-4.9l18-4.7l22-6.2l22-6.9l20-6.9l20-7.6l18-7.6l18-8.4l16-8.3l14-8.4l0 392.4l-794 0z" fill="#303030"/>
<path d="M770 373.8l14 4.8l14 3.5l18 3.2l20 2.7l22 2.3l24 1.7l26 1.1l28 0.6l60-0.6l64-3l68-5.2l68-7.2l62-8.2l58-9.3l54-10.4l20-4.4l20-5.1l22-6.3l22-6.9l20-7l20-7.7l18-7.7l18-8.6l16-8.6l12-7.5l0 389.7l-788 0z" fill="#323232"/>
<path d="M774 375.5l14 4.9l14 3.6l16 3l20 2.8l22 2.3l24 1.8l26 1.2l28 0.7l58-0.6l64-2.8l68-5.2l68-7.1l62-8.2l58-9.3l52-10.1l20-4.5l20-5.1l22-6.3l22-7l20-7l20-7.8l18-7.8l16-7.8l16-8.7l12-7.7l0 386.9l-780 0z" fill="#343434"/>
<path d="M778 377.2l12 4.4l14 3.9l16 3.1l20 3l22 2.4l24 1.9l26 1.3l28 0.6l58-0.5l64-2.8l66-5l68-7.1l62-8.2l58-9.3l52-10.1l20-4.5l20-5.3l22-6.3l22-7.1l20-7.2l18-7.1l18-8l16-7.9l14-7.9l12-7.8l0 384l-772 0z" fill="#363636"/>
<path d="M782 379l12 4.6l14 3.9l14 2.9l20 3l22 2.6l24 1.9l26 1.3l26 0.7l58-0.3l62-2.7l66-4.8l66-6.8l60-7.8l58-9.2l52-9.9l22-4.9l18-4.7l22-6.2l22-7l20-7.1l18-7.1l18-7.9l16-7.8l14-7.8l12-7.9l0 379.7l-762 0z" fill="#383838"/>
<path d="M786 380.8l12 4.8l14 4l14 2.9l20 3.1l22 2.5l22 1.8l26 1.4l26 0.7l56-0.2l62-2.5l66-4.8l66-6.8l60-7.8l56-8.9l52-9.9l20-4.4l20-5.1l22-6.3l22-7.1l20-7.1l18-7.2l18-7.9l16-8.1l14-8.1l10-6.7l0 376.6l-754 0z" fill="#3a3a3a"/>
<path d="M790 382.8l12 4.8l14 4.1l14 2.9l18 2.9l22 2.6l22 1.9l26 1.4l26 0.8l56-0.2l62-2.5l64-4.6l66-6.8l60-7.8l58-9.2l52-10.1l18-4l20-5.2l22-6.4l20-6.5l20-7.2l18-7.2l16-7.2l16-8.1l14-8.1l10-6.9l0 373.5l-746 0z" fill="#3c3c3c"/>
<path d="M794 384.8l12 4.9l12 3.7l12 2.7l20 3.3l22 2.7l22 2l26 1.5l26 0.7l56-0.1l60-2.4l64-4.5l66-6.7l60-7.8l56-8.9l52-10.1l18-4.1l20-5.2l22-6.4l20-6.5l20-7.2l18-7.3l16-7.3l16-8.3l12-7.1l10-7.1l0 370.4l-738 0z" fill="#3e3e3e"/>
<path d="M798 386.9l12 5l12 3.7l12 2.8l20 3.3l22 2.7l22 1.9l24 1.4l26 0.9l56-0.1l60-2.4l64-4.6l64-6.5l60-7.8l56-8.9l50-9.7l18-4.1l20-5.2l22-6.4l20-6.6l18-6.5l18-7.3l16-7.3l16-8.3l12-7.2l10-7.2l0 367.2l-730 0z" fill="#404040"/>
<path d="M800 388l10 4.6l12 4.2l14 3.5l16 2.8l20 2.7l22 2.2l24 1.6l26 1l54 0.3l60-2.1l64-4.3l66-6.5l58-7.4l56-8.8l52-9.9l20-4.5l18-4.7l22-6.4l20-6.5l18-6.5l18-7.3l16-7.3l16-8.3l12-7.3l10-7.3l0 363.9l-724 0z" fill="#424242"/>
<path d="M804 390.2l10 4.7l12 4.2l12 3.1l16 2.9l20 2.8l22 2.3l24 1.6l26 1.1l54 0.3l58-2l64-4.3l64-6.2l58-7.4l56-8.7l52-9.9l18-4l20-5.2l22-6.4l20-6.5l18-6.6l18-7.3l16-7.4l14-7.4l12-7.4l10-7.4l0 360.6l-716 0z" fill="#444444"/>
<path d="M808 392.5l10 4.8l12 4.1l12 3.1l16 3l20 2.8l22 2.2l24 1.7l24 0.9l54 0.4l58-2l62-4.1l64-6.2l58-7.3l56-8.8l50-9.5l18-4.1l20-5.2l22-6.4l20-6.6l18-6.6l18-7.4l16-7.5l14-7.5l12-7.6l8-6.2l0 357.2l-708 0z" fill="#464646"/>
<path d="M812 394.8l10 4.8l10 3.6l14 3.8l14 2.6l20 2.8l22 2.3l24 1.7l24 1l54 0.4l58-1.9l62-4.2l62-6l58-7.3l54-8.4l50-9.6l18-4l20-5.2l20-5.8l20-6.6l18-6.5l18-7.4l16-7.5l14-7.5l12-7.7l8-6.2l0 353.7l-700 0z" fill="#484848"/>
<path d="M816 397.2l10 4.9l10 3.6l14 3.7l14 2.6l20 2.9l22 2.2l24 1.7l24 1l52 0.3l58-1.9l60-3.9l62-6.1l58-7.3l54-8.4l50-9.6l36-8.8l20-5.9l20-6.5l18-6.6l18-7.5l14-6.6l14-7.5l12-7.7l8-6.3l0 350.2l-692 0z" fill="#4a4a4a"/>
<path d="M820 399.7l10 4.9l10 3.6l14 3.7l14 2.6l20 2.8l20 2.1l24 1.7l24 1l52 0.4l56-1.8l60-3.9l62-6l56-7.1l54-8.4l50-9.5l36-8.8l20-5.9l20-6.6l18-6.6l16-6.7l14-6.5l14-7.6l12-7.7l8-6.3l0 346.6l-684 0z" fill="#4c4c4c"/>
<path d="M822 401l10 5.2l10 3.8l12 3.5l12 2.4l20 3.1l20 2.3l24 1.9l24 1.1l52 0.6l56-1.6l60-3.8l60-5.7l56-7l54-8.3l50-9.4l18-4l18-4.7l20-5.8l20-6.5l18-6.6l16-6.6l14-6.6l14-7.5l12-7.7l8-6.3l0 342.9l-678 0z" fill="#4e4e4e"/>
<path d="M826 403.6l10 5.2l10 3.8l12 3.4l12 2.5l20 3l20 2.3l22 1.7l24 1.2l50 0.6l56-1.5l60-3.8l60-5.7l56-6.9l54-8.3l48-9.1l18-4l18-4.7l20-5.8l20-6.6l18-6.6l16-6.7l14-6.6l14-7.6l10-6.6l8-6.3l0 339.2l-670 0z" fill="#505050"/>
<path d="M830 406.2l10 5.2l10 3.8l12 3.4l12 2.4l18 2.8l20 2.3l22 1.8l24 1.2l50 0.6l56-1.5l58-3.7l60-5.6l56-6.9l52-8l48-9.1l18-4l18-4.7l20-5.8l18-5.9l18-6.6l16-6.6l14-6.6l14-7.6l10-6.5l8-6.4l0 335.5l-662 0z" fill="#525252"/>
<path d="M834 408.9l8 4.3l10 4l12 3.5l12 2.5l18 2.9l20 2.3l22 1.8l24 1.3l50 0.6l54-1.4l58-3.6l58-5.4l54-6.6l52-7.9l48-8.9l20-4.5l16-4.1l20-5.8l18-5.8l18-6.5l16-6.6l14-6.5l14-7.6l10-6.5l8-6.3l0 331.6l-654 0z" fill="#545454"/>
<path d="M836 410.3l8 4.7l10 4.2l10 3.1l12 2.8l18 3l20 2.5l22 1.9l22 1.2l48 0.9l54-1.2l58-3.4l58-5.3l54-6.4l52-7.8l48-8.9l36-8.4l20-5.7l18-5.8l18-6.5l16-6.5l14-6.5l14-7.5l10-6.5l8-6.3l0 327.8l-648 0z" fill="#565656"/>
<path d="M840 413.1l8 4.6l10 4.2l10 3.1l12 2.7l18 3l20 2.4l22 1.9l22 1.2l48 0.8l54-1.3l58-3.5l58-5.3l54-6.6l52-7.9l46-8.7l18-4l18-4.6l20-5.9l18-5.9l16-5.9l16-6.7l14-6.7l12-6.7l10-6.6l8-6.7l0 325.7l-642 0z" fill="#585858"/>
<path d="M844 416l8 4.5l10 4.1l10 3.1l12 2.7l18 2.9l20 2.4l22 1.8l22 1.2l48 0.8l52-1.3l56-3.4l58-5.3l54-6.6l50-7.6l48-9l34-8.3l20-5.8l18-6l16-5.9l16-6.8l12-5.7l12-6.6l10-6.6l8-6.6l0 321.7l-634 0z" fill="#5a5a5a"/>
<path d="M848 418.9l8 4.4l10 4.1l10 3l12 2.6l18 2.9l18 2.2l22 1.9l22 1.1l48 0.8l52-1.3l56-3.3l56-5.2l52-6.3l50-7.6l46-8.5l34-8.1l20-5.8l18-5.9l16-5.9l16-6.7l12-5.7l12-6.5l10-6.6l8-6.5l0 317.7l-626 0z" fill="#5c5c5c"/>
<path d="M850 420.4l8 4.8l8 3.5l10 3.3l12 3l18 3l18 2.3l22 2l22 1.2l48 0.9l52-1.2l56-3.3l56-5.2l52-6.3l50-7.5l46-8.7l34-8.2l18-5.3l18-5.9l16-5.9l16-6.7l14-6.8l12-6.9l10-7l6-5.4l0 315.6l-622 0z" fill="#5e5e5e"/>
<path d="M854 423.4l8 4.7l8 3.5l10 3.2l12 2.9l18 3l18 2.2l22 1.9l22 1.3l46 0.8l52-1.2l54-3.2l56-5.1l52-6.3l50-7.6l44-8.3l34-8.2l18-5.3l18-5.9l16-5.9l16-6.8l12-5.8l12-6.9l8-5.4l8-6.8l0 311.5l-614 0z" fill="#606060"/>
<path d="M858 426.5l8 4.5l8 3.4l10 3.2l12 2.8l18 3l18 2.2l20 1.7l22 1.2l46 0.9l50-1.2l54-3.1l54-4.9l52-6.2l48-7.2l44-8.2l34-8.1l18-5.2l18-5.8l16-5.9l14-5.8l14-6.7l12-6.7l8-5.4l8-6.6l0 307.3l-606 0z" fill="#626262"/>
<path d="M860 428.1l8 4.9l8 3.5l10 3.4l10 2.4l16 2.9l18 2.4l20 1.9l22 1.3l44 1.1l50-0.9l54-3l54-4.7l52-6.1l48-7.1l44-8.1l34-7.9l18-5.1l18-5.8l16-5.9l14-5.7l12-5.6l12-6.4l10-6.5l8-6.6l0 303.2l-600 0z" fill="#646464"/>
<path d="M864 431.2l8 4.8l8 3.5l10 3.2l10 2.4l16 2.8l18 2.3l20 1.9l22 1.3l44 1l50-1l54-3.1l54-4.8l52-6.2l48-7.3l44-8.2l32-7.8l34-10.5l16-6l14-5.8l12-5.8l12-6.8l10-6.9l6-5.4l0 300.9l-594 0z" fill="#666666"/>
<path d="M866 432.9l6 4l8 3.9l10 3.6l12 3.1l16 2.8l18 2.4l38 3l44 1.2l48-0.8l52-2.7l54-4.6l50-5.8l48-7l44-8l34-7.9l18-5.1l18-5.8l16-5.9l14-5.8l12-5.7l12-6.7l10-6.8l6-5.2l0 296.6l-588 0z" fill="#686868"/>
<path d="M870 436.1l8 5l8 3.5l10 3.3l10 2.4l16 2.8l18 2.3l20 1.8l20 1.3l44 0.9l48-0.9l52-2.9l54-4.8l50-5.9l46-6.9l44-8.2l32-7.7l18-5.3l16-5.3l16-6l14-6l12-5.9l10-5.7l10-7l6-5.6l0 294.4l-582 0z" fill="#6a6a6a"/>
<path d="M874 439.3l8 4.8l8 3.5l10 3.2l10 2.3l16 2.7l18 2.3l38 2.9l44 1l48-1l52-2.9l52-4.6l50-6l46-6.9l42-7.8l32-7.7l18-5.3l16-5.3l14-5.2l14-5.9l12-5.8l10-5.6l10-7l6-5.3l0 290l-574 0z" fill="#6c6c6c"/>
<path d="M876 441.1l6 4l8 3.9l10 3.5l10 2.6l16 2.9l16 2.2l18 1.8l20 1.3l42 1.2l48-0.7l50-2.6l52-4.4l48-5.5l46-6.7l44-8l32-7.4l18-5.1l16-5.2l16-5.8l14-5.8l12-5.7l10-5.6l10-6.8l6-5.1l0 285.6l-568 0z" fill="#6e6e6e"/>
<path d="M880 444.4l6 3.9l8 3.7l10 3.5l10 2.5l16 2.8l18 2.3l38 3l42 1l48-0.9l50-2.8l52-4.5l48-5.7l46-6.9l42-7.9l30-7.2l18-5.3l16-5.3l14-5.3l14-5.9l12-6l10-5.8l8-5.7l6-5.5l0 283.3l-562 0z" fill="#707070"/>
<path d="M882 446.2l6 4.1l8 4l10 3.5l10 2.6l16 2.9l16 2.1l36 3l42 1.2l46-0.7l50-2.5l50-4.2l46-5.3l46-6.7l42-7.5l32-7.4l18-5.1l16-5.2l14-5.1l14-5.7l12-5.7l10-5.6l10-6.8l6-5.2l0 278.8l-556 0z" fill="#727272"/>
<path d="M886 449.6l6 3.9l8 3.8l10 3.5l10 2.5l16 2.8l16 2.1l36 2.9l42 1.1l46-0.8l50-2.6l50-4.4l48-5.6l44-6.5l42-7.8l30-7.2l32-9.9l14-5.2l14-5.9l12-6l10-5.8l8-5.7l6-5.6l0 276.5l-550 0z" fill="#747474"/>
<path d="M890 453l6 3.8l8 3.6l10 3.4l10 2.4l16 2.7l16 2l36 2.8l40 1l46-0.7l48-2.6l50-4.3l46-5.3l44-6.5l40-7.4l30-7l32-9.8l14-5.1l14-5.8l12-5.8l10-5.8l8-5.5l6-5.4l0 272l-542 0z" fill="#767676"/>
<path d="M892 454.8l6 4.1l8 3.8l10 3.5l10 2.4l14 2.5l16 2.1l36 3l40 1.1l46-0.7l48-2.5l50-4.3l46-5.3l44-6.6l40-7.3l30-7.2l32-9.9l14-5.2l14-6l10-5l10-5.8l8-5.7l6-5.7l0 269.6l-538 0z" fill="#787878"/>
<path d="M896 458.3l6 3.9l8 3.6l8 2.8l10 2.5l16 2.8l16 2.1l36 2.9l40 1l44-0.7l48-2.6l48-4.1l44-5.1l44-6.4l40-7.4l30-7.1l32-9.9l14-5.3l12-5.1l10-4.9l10-5.7l8-5.5l6-5.4l0 265l-530 0z" fill="#7a7a7a"/>
<path d="M898 460.2l6 4.1l8 3.9l8 2.8l10 2.6l14 2.6l16 2.2l36 3l40 1.1l44-0.7l48-2.5l48-4.1l44-5.1l44-6.5l38-6.9l30-7.1l16-4.7l16-5.3l14-5.2l12-5.2l10-4.9l10-5.8l8-5.7l6-5.7l0 262.6l-526 0z" fill="#7c7c7c"/>
<path d="M902 463.7l6 3.9l8 3.7l8 2.7l10 2.5l14 2.5l16 2.1l34 2.8l40 1.2l42-0.6l46-2.4l48-4l44-5l42-6.1l38-6.9l30-6.9l16-4.6l16-5.2l14-5.2l12-5l10-4.9l10-5.6l8-5.5l6-5.4l0 257.9l-518 0z" fill="#7e7e7e"/>
<path d="M904 465.7l6 4.1l8 3.9l8 2.8l10 2.6l28 4.4l34 2.9l38 1.2l44-0.5l46-2.3l48-4l44-5l42-6.1l38-6.9l30-7.1l16-4.6l16-5.3l14-5.3l12-5.2l10-5l10-6l6-4.4l6-5.7l0 255.5l-514 0z" fill="#808080"/>
<path d="M908 469.3l6 3.9l6 2.8l8 2.9l10 2.7l14 2.5l16 2.2l34 2.8l38 1.1l42-0.5l46-2.3l46-3.9l44-5l42-6.1l38-7l28-6.6l30-9.2l14-5.2l12-5.2l10-4.9l10-5.8l6-4.2l6-5.4l0 250.8l-506 0z" fill="#818181"/>
<path d="M910 471.2l6 4.2l6 3l8 3l10 2.7l14 2.6l14 1.9l34 3l38 1.2l42-0.5l46-2.2l46-3.9l42-4.7l42-6.1l38-6.9l28-6.6l30-9.2l14-5.3l12-5.1l10-5l10-5.9l6-4.3l6-5.7l0 248.3l-502 0z" fill="#838383"/>
<path d="M914 474.9l6 3.9l6 2.8l8 2.9l10 2.6l28 4.4l34 2.8l38 1.2l40-0.6l44-2.1l46-3.8l42-4.8l40-5.8l38-6.9l28-6.5l30-9.3l24-9.5l10-4.8l10-5.8l6-4.2l6-5.3l0 243.6l-494 0z" fill="#858585"/>
<path d="M916 476.9l6 4.1l6 3l8 2.9l10 2.7l28 4.5l32 2.7l38 1.3l40-0.5l44-2.1l46-3.8l42-4.8l40-5.8l36-6.5l28-6.5l30-9.3l24-9.5l10-4.9l10-5.8l6-4.4l6-5.6l0 241.1l-490 0z" fill="#878787"/>
<path d="M920 480.5l6 3.9l6 2.8l8 2.8l10 2.6l28 4.3l32 2.7l36 1.1l40-0.5l44-2.2l44-3.6l40-4.5l40-5.8l36-6.5l28-6.4l28-8.6l24-9.3l10-4.8l10-5.7l6-4.2l6-5.2l0 236.3l-482 0z" fill="#898989"/>
<path d="M922 482.6l6 4.1l6 2.9l8 2.9l10 2.6l26 4.2l32 2.8l36 1.2l40-0.5l44-2.1l44-3.6l40-4.5l40-5.8l36-6.5l28-6.6l28-8.7l12-4.5l12-5.1l10-5l8-4.7l6-4.2l6-5.6l0 233.8l-478 0z" fill="#8b8b8b"/>
<path d="M924 484.5l6 4.5l6 3l8 3l8 2.3l26 4.3l32 3l36 1.3l40-0.4l44-2.1l44-3.6l40-4.5l40-5.8l36-6.5l26-6.2l28-8.7l12-4.5l12-5.1l10-5.1l8-4.7l6-4.4l6-5.9l0 231.3l-474 0z" fill="#8d8d8d"/>
<path d="M928 488.3l6 4.1l6 2.9l8 2.9l8 2.1l26 4.2l32 2.8l36 1.2l38-0.4l42-2l42-3.3l40-4.5l38-5.4l36-6.5l26-6l28-8.5l24-9.4l10-5l8-4.6l6-4.2l6-5.4l0 226.4l-466 0z" fill="#8f8f8f"/>
<path d="M930 490.3l6 4.4l6 3l8 3l8 2.1l26 4.3l30 2.8l36 1.2l38-0.3l42-2l42-3.3l40-4.5l38-5.4l36-6.5l26-6.1l28-8.7l12-4.5l12-5.2l10-5.1l8-5l6-4.6l4-4.1l0 223.9l-462 0z" fill="#919191"/>
<path d="M934 494.1l6 4.1l6 2.8l8 2.8l8 2.1l26 4.1l30 2.6l34 1.2l38-0.4l40-1.8l42-3.4l38-4.2l38-5.4l34-6l26-6l26-7.8l24-9.3l10-4.8l8-4.6l6-4.1l6-5.4l0 219.1l-454 0z" fill="#939393"/>
<path d="M936 496.2l6 4.3l6 3l8 2.8l8 2.1l24 4l30 2.7l34 1.3l38-0.3l40-1.8l42-3.4l38-4.2l38-5.4l34-6.1l26-6l28-8.7l22-8.8l10-5.1l8-4.9l6-4.5l4-4l0 216.5l-450 0z" fill="#959595"/>
<path d="M940 500l4 2.8l6 3.1l8 3l8 2.1l26 4.2l30 2.7l34 1.1l36-0.3l40-1.9l40-3.1l38-4.2l36-5.1l32-5.7l26-5.9l26-7.8l22-8.4l10-4.8l8-4.5l6-4.1l6-5.2l0 211.7l-442 0z" fill="#979797"/>
<path d="M942 502.1l4 3l6 3.2l8 3.1l8 2.2l24 4l30 2.8l34 1.2l36-0.2l40-1.8l40-3.2l38-4.2l36-5.1l32-5.7l26-6l26-7.9l22-8.8l16-8.4l6-4.2l6-5.5l0 209.1l-438 0z" fill="#999999"/>
<path d="M946 505.9l4 2.8l6 3l8 2.9l8 2l26 4.2l30 2.5l34 1l36-0.4l38-1.9l40-3.3l36-4l36-5.2l32-5.9l24-5.6l26-8.1l22-9l8-4.1l8-4.9l6-4.6l4-4.1l0 206.5l-432 0z" fill="#9b9b9b"/>
<path d="M948 508l4 3l6 3.1l8 3l8 2.1l24 4l28 2.5l32 1.2l36-0.2l38-1.7l38-3l36-3.8l36-5.1l32-5.6l26-5.9l24-7.2l22-8.6l16-8.3l6-4.1l6-5.3l0 201.6l-426 0z" fill="#9d9d9d"/>
<path d="M950 510.1l4 3.2l6 3.3l8 3l8 2.2l24 4l26 2.4l32 1.3l36-0.2l38-1.6l38-2.9l36-3.9l36-5l32-5.7l24-5.5l26-7.9l22-8.8l8-4l8-4.8l6-4.5l4-4l0 199l-422 0z" fill="#9f9f9f"/>
<path d="M954 514l4 2.9l6 3l8 2.9l8 2.1l24 3.8l26 2.3l32 1.2l34-0.2l36-1.6l38-2.9l36-3.9l34-4.7l32-5.6l24-5.5l24-7.2l22-8.6l8-3.9l8-4.6l6-4.3l4-3.7l0 194.2l-414 0z" fill="#a1a1a1"/>
<path d="M956 516.1l4 3.1l6 3.2l6 2.3l8 2.3l22 3.8l28 2.7l32 1.3l34-0.2l36-1.5l38-2.9l34-3.6l34-4.7l32-5.6l24-5.4l24-7.2l22-8.7l8-3.9l8-4.7l6-4.4l4-3.8l0 191.5l-410 0z" fill="#a3a3a3"/>
<path d="M960 520l4 2.7l6 3l6 2.2l8 2.2l24 3.9l26 2.3l30 1.2l34-0.2l36-1.6l36-2.7l34-3.7l34-4.7l30-5.2l24-5.4l24-7.2l20-7.8l8-3.8l8-4.5l6-4.2l4-3.6l0 186.8l-402 0z" fill="#a5a5a5"/>
<path d="M962 522.1l4 3l6 3.1l6 2.3l8 2.2l22 3.7l26 2.4l30 1.3l34-0.2l36-1.5l36-2.7l34-3.6l32-4.4l30-5.2l24-5.4l24-7.2l20-7.8l8-3.9l8-4.5l6-4.3l4-3.8l0 184.1l-398 0z" fill="#a7a7a7"/>
<path d="M966 525.9l4 2.7l6 2.9l6 2.2l8 2l24 3.8l28 2.4l30 0.9l34-0.4l34-1.6l36-2.9l34-3.9l32-4.6l28-5.1l22-5.2l22-6.8l20-8l14-7.7l6-4.4l4-4l0 181.5l-392 0z" fill="#a9a9a9"/>
<path d="M968 528.1l4 2.9l6 3l6 2.2l8 2.2l22 3.5l24 2.3l30 1.2l32-0.2l34-1.4l36-2.6l32-3.4l32-4.4l30-5.2l22-4.9l22-6.5l20-7.7l8-3.7l8-4.5l6-4.2l4-3.6l0 176.6l-386 0z" fill="#ababab"/>
<path d="M970 530.2l4 3.1l4 2.3l6 2.5l8 2.4l22 3.8l26 2.5l28 1.2l32-0.1l34-1.3l36-2.7l32-3.4l32-4.4l30-5.2l22-5l22-6.7l20-7.9l14-7.5l6-4.3l4-3.8l0 174l-382 0z" fill="#adadad"/>
<path d="M974 534.1l4 2.8l6 3l12 3.7l22 3.6l26 2.4l28 1.1l32-0.2l32-1.4l34-2.5l32-3.4l30-4.1l28-4.8l22-4.8l22-6.5l20-7.7l14-7.2l6-4.1l4-3.5l0 169.2l-374 0z" fill="#afafaf"/>
<path d="M976 536.2l4 3.1l4 2.1l6 2.5l8 2.3l22 3.7l24 2.2l28 1.2l30-0.1l34-1.3l34-2.6l32-3.3l30-4.2l28-4.8l22-5l22-6.6l18-7l14-7.4l6-4.2l4-3.7l0 166.6l-370 0z" fill="#b1b1b1"/>
<path d="M980 540.1l4 2.7l6 2.9l12 3.5l22 3.6l26 2.2l28 1l30-0.3l32-1.4l34-2.6l30-3.3l30-4.2l28-5l20-4.6l22-6.8l18-7.3l8-4.1l6-3.7l4-3l4-4l0 164l-364 0z" fill="#b3b3b3"/>
<path d="M982 542.3l4 2.9l4 2.1l6 2.3l8 2.3l20 3.3l24 2.2l26 1.1l30 0l32-1.2l32-2.3l30-3.1l30-4l28-4.8l22-4.9l20-5.9l18-6.9l14-7.2l6-4.1l4-3.6l0 159.2l-358 0z" fill="#b5b5b5"/>
<path d="M986 546.1l4 2.6l6 2.8l12 3.4l22 3.4l24 2l26 0.9l30-0.2l32-1.4l32-2.5l30-3.2l28-4l26-4.5l20-4.6l20-6.1l18-7.2l8-4l6-3.6l4-3l4-3.8l0 156.6l-352 0z" fill="#b7b7b7"/>
<path d="M988 548.3l4 2.8l4 2l12 4l20 3.3l24 2.3l26 1.1l28 0l30-1.1l32-2.3l30-3.1l28-3.7l26-4.4l22-4.8l20-6l18-6.9l14-7.4l8-6.2l0 151.8l-346 0z" fill="#b9b9b9"/>
<path d="M990 550.3l4 3.1l4 2.2l6 2.3l6 1.7l20 3.5l22 2.2l26 1.1l28 0.1l30-1.1l32-2.3l30-3.1l28-3.7l26-4.5l20-4.4l20-5.9l18-7l8-3.9l6-3.6l4-2.8l4-3.7l0 149.2l-342 0z" fill="#bbbbbb"/>
<path d="M994 554.2l4 2.8l4 1.9l12 3.8l20 3.3l22 2l24 1.1l28 0l30-1.1l30-2.2l28-2.8l28-3.7l26-4.4l20-4.4l20-5.9l16-6.1l14-7.2l8-6.1l0 144.5l-334 0z" fill="#bdbdbd"/>
<path d="M996 556.3l4 3l4 2.1l6 2.3l6 1.6l18 3.1l22 2.2l24 1.1l28 0l30-1.1l30-2.1l28-2.8l26-3.4l26-4.4l20-4.3l20-5.9l16-6.2l14-7.3l4-2.8l4-3.6l0 141.9l-330 0z" fill="#bfbfbf"/>
<path d="M1000 560.2l4 2.6l4 1.9l12 3.6l20 3.2l22 2l24 0.9l28-0.1l30-1.3l30-2.3l28-3l26-3.7l24-4.2l18-4.2l18-5.6l16-6.4l12-6.5l4-2.9l4-3.9l0 139.4l-324 0z" fill="#c1c1c1"/>
<path d="M1002 562.3l4 2.9l4 2l10 3.3l18 3.1l22 2.2l24 1.1l26 0.1l28-1l30-2l26-2.7l26-3.4l24-3.9l20-4.3l20-5.9l16-6.3l12-6.2l8-6.3l0 134.7l-318 0z" fill="#c3c3c3"/>
<path d="M1006 566.1l4 2.5l4 1.9l10 3l20 3.3l22 1.9l24 0.9l26-0.1l28-1.1l30-2.3l26-2.8l26-3.6l22-3.9l18-4.1l18-5.6l16-6.5l10-5.5l4-2.8l4-3.8l0 132.2l-312 0z" fill="#c5c5c5"/>
<path d="M1008 568.1l4 2.9l4 1.9l10 3.2l18 3l20 2l22 1l26 0.1l28-0.9l28-1.9l26-2.7l24-3.1l24-4l18-3.8l18-5.3l16-6l12-6.2l8-6.1l0 127.5l-306 0z" fill="#c7c7c7"/>
<path d="M1012 571.9l4 2.5l4 1.8l10 2.9l18 2.9l22 2l24 0.9l26-0.2l26-1.1l28-2.1l26-2.8l24-3.3l22-3.9l16-3.7l18-5.6l14-5.7l10-5.3l4-2.8l4-3.7l0 125l-300 0z" fill="#c9c9c9"/>
<path d="M1014 574l4 2.7l4 1.9l10 3.1l16 2.7l20 2l22 1l24 0.1l26-0.9l28-1.9l24-2.3l24-3.2l22-3.6l18-3.8l18-5.2l14-5.3l12-6l8-6l0 120.4l-294 0z" fill="#cbcbcb"/>
<path d="M1018 577.7l4 2.4l4 1.8l10 2.8l18 2.8l20 1.8l22 0.8l24-0.1l26-1l26-1.9l24-2.5l24-3.3l22-3.8l16-3.7l16-4.9l14-5.5l10-5.3l4-2.7l4-3.7l0 118l-288 0z" fill="#cdcdcd"/>
<path d="M1020 579.7l6 3.7l10 3.4l16 2.8l20 2l22 1l24 0.1l24-0.9l26-1.7l24-2.4l24-3.1l22-3.7l16-3.5l16-4.8l14-5.3l10-5.1l8-6l0 113.5l-282 0z" fill="#cfcfcf"/>
<path d="M1024 583.4l6 3.3l10 3.1l18 2.9l20 1.8l22 0.8l22-0.1l24-0.9l26-1.9l24-2.5l22-3l20-3.5l16-3.6l16-4.9l14-5.6l10-5.6l6-5.1l0 111.1l-276 0z" fill="#d1d1d1"/>
<path d="M1026 585.4l6 3.7l10 3.2l16 2.7l18 1.8l22 1l22 0.1l24-0.9l24-1.6l24-2.3l22-2.9l20-3.4l16-3.4l14-4.1l14-5.3l10-5l8-5.9l0 106.6l-270 0z" fill="#d3d3d3"/>
<path d="M1030 589l6 3.3l10 3l16 2.6l18 1.6l20 0.9l22 0l22-0.7l24-1.6l22-2.2l20-2.5l20-3.3l16-3.3l14-3.9l14-5.1l10-4.8l8-5.5l0 102.2l-262 0z" fill="#d5d5d5"/>
<path d="M1032 590.9l6 3.7l10 3.2l14 2.4l18 1.8l20 0.9l22 0.1l22-0.7l24-1.6l22-2.1l20-2.6l20-3.3l16-3.4l16-4.7l12-4.7l10-5.3l6-4.7l0 99.8l-258 0z" fill="#d7d7d7"/>
<path d="M1036 594.5l6 3.3l10 3l14 2.2l18 1.7l20 0.9l20 0l22-0.8l22-1.4l22-2.2l20-2.6l18-2.9l16-3.4l14-4.1l12-4.6l10-5l6-4.4l0 95.5l-250 0z" fill="#d9d9d9"/>
<path d="M1040 598l6 3l10 2.7l16 2.3l18 1.5l18 0.7l20-0.1l22-0.8l22-1.6l20-2.1l20-2.7l18-3.1l14-3.1l14-4.3l12-4.8l8-4.3l6-4.8l0 93.2l-244 0z" fill="#dbdbdb"/>
<path d="M1042 599.9l6 3.4l8 2.4l14 2.4l18 1.7l18 0.8l20 0.1l20-0.6l22-1.5l20-1.9l20-2.6l18-2.9l14-3l12-3.5l12-4.5l10-5l6-4.5l0 89l-238 0z" fill="#dddddd"/>
<path d="M1046 603.3l6 3.1l8 2.2l14 2.3l18 1.6l18 0.7l18 0l20-0.6l20-1.3l36-4l18-2.9l14-2.8l12-3.4l12-4.3l10-4.8l6-4.2l0 84.8l-230 0z" fill="#dfdfdf"/>
<path d="M1050 606.6l6 2.8l8 2.1l14 2.1l18 1.6l18 0.6l18-0.1l20-0.8l20-1.4l36-4.2l16-2.7l12-2.6l12-3.5l12-4.6l8-4.2l6-4.6l0 82.6l-224 0z" fill="#e1e1e1"/>
<path d="M1052 608.5l6 3.2l8 2.3l14 2.1l14 1.3l16 0.8l18 0.1l20-0.6l20-1.3l36-4l16-2.6l14-2.9l12-3.6l10-3.8l8-4l6-4.3l0 78.5l-218 0z" fill="#e3e3e3"/>
<path d="M1056 611.8l6 2.9l6 1.7l14 2.2l16 1.5l16 0.7l18 0l36-1.8l34-3.7l16-2.6l12-2.5l12-3.4l10-3.6l8-3.9l6-4.1l0 74.5l-210 0z" fill="#e5e5e5"/>
<path d="M1060 614.9l6 2.7l8 2l14 2l14 1.1l16 0.6l16 0l34-1.7l32-3.5l16-2.5l12-2.5l10-2.8l10-3.6l8-3.7l6-3.9l0 70.6l-202 0z" fill="#e7e7e7"/>
<path d="M1064 618l6 2.5l8 1.8l12 1.7l14 1.2l30 0.6l34-1.7l32-3.5l26-4.7l10-2.8l10-3.6l6-2.9l6-3.7l0 66.8l-194 0z" fill="#e9e9e9"/>
<path d="M1066 619.8l6 2.9l6 1.6l12 1.9l12 1.2l14 0.7l16 0.2l32-1.3l32-3.3l26-4.5l10-2.7l8-2.7l8-3.6l6-3.6l0 63.1l-188 0z" fill="#ebebeb"/>
<path d="M1070 622.8l4 2l6 1.8l12 2l14 1.4l14 0.6l16 0.1l32-1.5l30-3.3l24-4.4l10-2.9l8-3l8-4l4-3l0 61.1l-182 0z" fill="#ededed"/>
<path d="M1074 625.7l6 2.6l6 1.4l12 1.8l12 1l28 0.6l30-1.4l28-3.1l24-4.4l10-2.9l8-3.1l6-3.1l4-2.9l0 57.5l-174 0z" fill="#efefef"/>
<path d="M1078 628.6l4 1.8l6 1.6l12 1.8l12 1.1l24 0.6l28-1.1l26-2.5l24-4l16-4.7l6-2.6l6-3.3l0 52.4l-164 0z" fill="#f1f1f1"/>
<path d="M1082 631.3l4 1.8l6 1.5l10 1.5l12 1.1l24 0.7l26-1.1l26-2.5l22-3.8l8-2l8-2.8l6-2.7l4-2.4l0 49.1l-156 0z" fill="#f3f3f3"/>
<path d="M1086 634l4 1.7l6 1.5l20 2.3l22 0.7l26-1l24-2.3l22-3.7l14-4.3l6-2.6l4-2.4l0 45.8l-148 0z" fill="#f5f5f5"/>
<path d="M1090 636.5l4 1.8l4 1l10 1.6l10 0.9l22 0.7l24-0.9l22-2.1l20-3.3l14-4.1l6-2.6l4-2.4l0 42.6l-140 0z" fill="#f7f7f7"/>
<path d="M1096 640l4 1.3l6 1.1l18 1.9l20 0.4l20-0.8l20-1.9l18-2.8l12-3.3l10-4.5l0 38.3l-128 0z" fill="#f9f9f9"/>
<path d="M1100 642.3l4 1.4l6 1.1l16 1.7l18 0.4l20-0.7l20-2l16-2.6l12-3.4l8-3.9l0 35.4l-120 0z" fill="#fbfbfb"/>
<path d="M1106 645.3l10 2.1l14 1.3l16 0.3l18-0.6l18-1.8l14-2.2l10-2.7l8-3.5l0 31.5l-108 0z" fill="#fdfdfd"/>
<path d="M1110 647.3l8 1.9l14 1.5l14 0.4l16-0.5l16-1.4l14-2.1l8-2l8-3.2l0 27.8l-98 0z" fill="#ffffff"/>
</g></g>
<g clip-path="url(#cS)"><g filter="url(#tb)">
<path d="M956 231H1640V391H956z" fill="#000"/>
<path d="M968 378.7l20-0.8l18-0.2l20 0.6l20 1.4l40 4.4l56 8.8l332-70.5l154-34.1l0-57.1l-660 0z" fill="#020202"/>
<path d="M968 378.7l28-1l26 0.4l28 1.9l32 3.6l2-14l82-11.9l86-13.7l84-14.4l78-14.5l64-13.1l54-12.1l44-11.4l52-15l0-32.3l-660 0z" fill="#040404"/>
<path d="M968 378.7l18-0.8l18-0.2l18 0.4l20 1.2l2-13.9l88-10.8l92-13l88-14l84-15l66-13.1l54-12.2l52-14l60-18.1l0-24l-660 0z" fill="#060606"/>
<path d="M968 378.7l24-0.9l24 0.1l2-14.1l98-10.7l102-13.5l100-15.5l48-8.3l44-8.3l60-12.4l46-11l52-14.7l60-18.9l0-19.3l-660 0z" fill="#080808"/>
<path d="M968 378.7l26-1l2-14l52-4.8l54-5.7l54-6.4l54-7.2l54-7.8l52-8.2l50-8.6l48-9.1l58-12.3l44-11.2l50-14.6l62-20.2l0-16.4l-660 0z" fill="#0a0a0a"/>
<path d="M968 378.7l10-0.5l2-14.2l50-4l50-4.8l0-124l-112 0zM1482 290.9l34-9.2l34-10l34-11l44-15l0-14.5l-146 0z" fill="#0c0c0c"/>
<path d="M1538 275.1l38-12.4l52-18.3l0-13.2l-90 0z" fill="#0e0e0e"/>
<path d="M1574 263.1l54-19.6l0-12.3l-54 0z" fill="#101010"/>
<path d="M1596 255.1l26-9.8l0-14.1l-26 0z" fill="#121212"/>
<path d="M1608 250.5l4-1.5l0-17.8l-4 0z" fill="#141414"/>
</g></g>
<polygon points="1072.8,1663.6 1192.5,1658.6 1169.0,1742.3 1048.6,1755.7" fill="none" stroke="#52afe0" stroke-width="6.7" stroke-linejoin="miter"/>
<polygon points="1103.0,1662.8 1223.5,1653.6 1200.0,1744.0 1078.7,1754.0" fill="none" stroke="#ff00ff" stroke-width="7.5" stroke-linejoin="miter"/>
<line x1="1072.8" y1="1189.3" x2="1072.8" y2="1663.6" stroke="#4dbeee" stroke-width="4.4" stroke-dasharray="18 18.8"/>
<line x1="1192.5" y1="1206.9" x2="1192.5" y2="1658.6" stroke="#4dbeee" stroke-width="4.4" stroke-dasharray="18 18.8"/>
<line x1="1169.0" y1="1297.3" x2="1169.0" y2="1742.3" stroke="#4dbeee" stroke-width="4.4" stroke-dasharray="18 18.8"/>
<line x1="1048.6" y1="1278.9" x2="1048.6" y2="1755.7" stroke="#4dbeee" stroke-width="4.4" stroke-dasharray="18 18.8"/>
<line x1="1103.0" y1="1250.5" x2="1103.0" y2="1662.8" stroke="#ff00ff" stroke-width="4.4" stroke-dasharray="18 18.8"/>
<line x1="1223.5" y1="1268.0" x2="1223.5" y2="1653.6" stroke="#ff00ff" stroke-width="4.4" stroke-dasharray="18 18.8"/>
<line x1="1200.0" y1="1357.6" x2="1200.0" y2="1744.0" stroke="#ff00ff" stroke-width="4.4" stroke-dasharray="18 18.8"/>
<line x1="1078.7" y1="1339.2" x2="1078.7" y2="1754.0" stroke="#ff00ff" stroke-width="4.4" stroke-dasharray="18 18.8"/>
<polygon points="1103.8,1250.5 1223.5,1268.0 1203.4,1357.6 1082.0,1339.2" fill="none" stroke="#ff00ff" stroke-width="13.4" stroke-linejoin="round"/>
<polygon points="1072.8,1189.3 1192.5,1206.9 1172.4,1297.3 1050.2,1278.9" fill="none" stroke="#4dbeee" stroke-width="13.4" stroke-linejoin="round"/>
<g stroke="#262626" stroke-width="4.4" fill="none">
<path d="M362.0 199.6L362.0 846.0" stroke-width="4.8"/>
<path d="M362.0 862.7L362.0 1711.8" stroke-width="4.8"/>
<path d="M349.5 844.6L375 852.3M349.5 859.2L375 866.9" stroke-width="3.6"/>
<path d="M1919.7 866.6L1919.7 1711.5" stroke-width="4"/>
<path d="M1907.7 840.6L1932.8 848.4M1907.7 862.5L1932.8 870.3" stroke-width="4"/>
<path d="M362.0 1711.8L1140.4 1881.6L1919.7 1711.5" stroke-width="4.6" stroke-linejoin="miter"/>
<path d="M337.3 197.4L362.0 201.8"/>
<path d="M337.3 350.1L362.0 354.5"/>
<path d="M337.3 502.8L362.0 507.2"/>
<path d="M337.3 655.5L362.0 659.9"/>
<path d="M337.3 808.2L362.0 812.6"/>
<path d="M337.3 961.4L362.0 965.8"/>
<path d="M337.3 1110.6L362.0 1115.0"/>
<path d="M337.3 1259.8L362.0 1264.2"/>
<path d="M337.3 1409.0L362.0 1413.4"/>
<path d="M337.3 1558.2L362.0 1562.6"/>
<path d="M337.3 1707.4L362.0 1711.8"/>
<path d="M337.5 1718.1L362.0 1711.8"/>
<path d="M1117.0 1887.0L1140.4 1881.6L1164.4 1887.0"/>
<path d="M1919.7 1711.5L1943.4 1717.0"/>
<path d="M621.5 1768.4L597.1 1773.5"/>
<path d="M1400.2 1824.9L1422.7 1829.9"/>
<path d="M880.9 1825.0L856.5 1830.1"/>
<path d="M1659.9 1768.2L1682.4 1773.2"/>
</g>
<rect x="2034" y="330.7" width="76.4" height="1257.9" fill="url(#cb)" stroke="#262626" stroke-width="2.8"/>
<path d="M2096.9 533.3H2110.4" stroke="#262626" stroke-width="2.6"/>
<path d="M2096.9 797.1H2110.4" stroke="#262626" stroke-width="2.6"/>
<path d="M2096.9 1060.7H2110.4" stroke="#262626" stroke-width="2.6"/>
<path d="M2096.9 1325.0H2110.4" stroke="#262626" stroke-width="2.6"/>
<text x="261.8" y="246.3" font-size="75">0</text>
<text x="149.1" y="387.4" font-size="75">-0.07</text>
<text x="149.1" y="527.8" font-size="75">-0.14</text>
<text x="149.1" y="668.4" font-size="75">-0.21</text>
<text x="149.1" y="810.2" font-size="75">-0.28</text>
<text x="168.1" y="989.6" font-size="75">-500</text>
<text x="168.1" y="1130.2" font-size="75">-600</text>
<text x="168.1" y="1281.0" font-size="75">-700</text>
<text x="168.1" y="1432.0" font-size="75">-800</text>
<text x="168.1" y="1571.5" font-size="75">-900</text>
<text x="125.8" y="1703.5" font-size="75">-1000</text>
<text x="225.1" y="1802.2" font-size="75">2100</text>
<text x="461.4" y="1861.5" font-size="75">1400</text>
<text x="754.9" y="1912.3" font-size="75">700</text>
<text x="1040.0" y="1962.5" font-size="75">0</text>
<text x="1175.7" y="1958.0" font-size="75">1020</text>
<text x="1440.6" y="1900.2" font-size="75">680</text>
<text x="1695.0" y="1832.8" font-size="75">340</text>
<text x="1939.2" y="1782.8" font-size="75">0</text>
<text x="2163.2" y="355.9" font-size="75">0</text>
<text x="2161.9" y="560.2" font-size="75">-0.05</text>
<text x="2161.9" y="820.7" font-size="75">-0.1</text>
<text x="2161.9" y="1080.9" font-size="75">-0.15</text>
<text x="2161.9" y="1341.0" font-size="75">-0.2</text>
<text x="2161.9" y="1601.7" font-size="75">-0.25</text>
<text x="2040.6" y="208.1" font-size="72">m</text>
<text x="63.7" y="771.3" font-size="74" text-anchor="start" transform="rotate(-90 63.7 771.3)">Subsidence/m</text>
<text x="68.4" y="1494.5" font-size="74" text-anchor="start" transform="rotate(-90 68.4 1494.5)">Depth/m</text>
<text x="402.6" y="1957.0" font-size="74" text-anchor="start" transform="rotate(16 402.6 1957.0)">East/m</text>
<text x="1595.8" y="2022.6" font-size="74" text-anchor="start" transform="rotate(-21.5 1595.8 2022.6)">North/m</text>
</svg></body></html>
